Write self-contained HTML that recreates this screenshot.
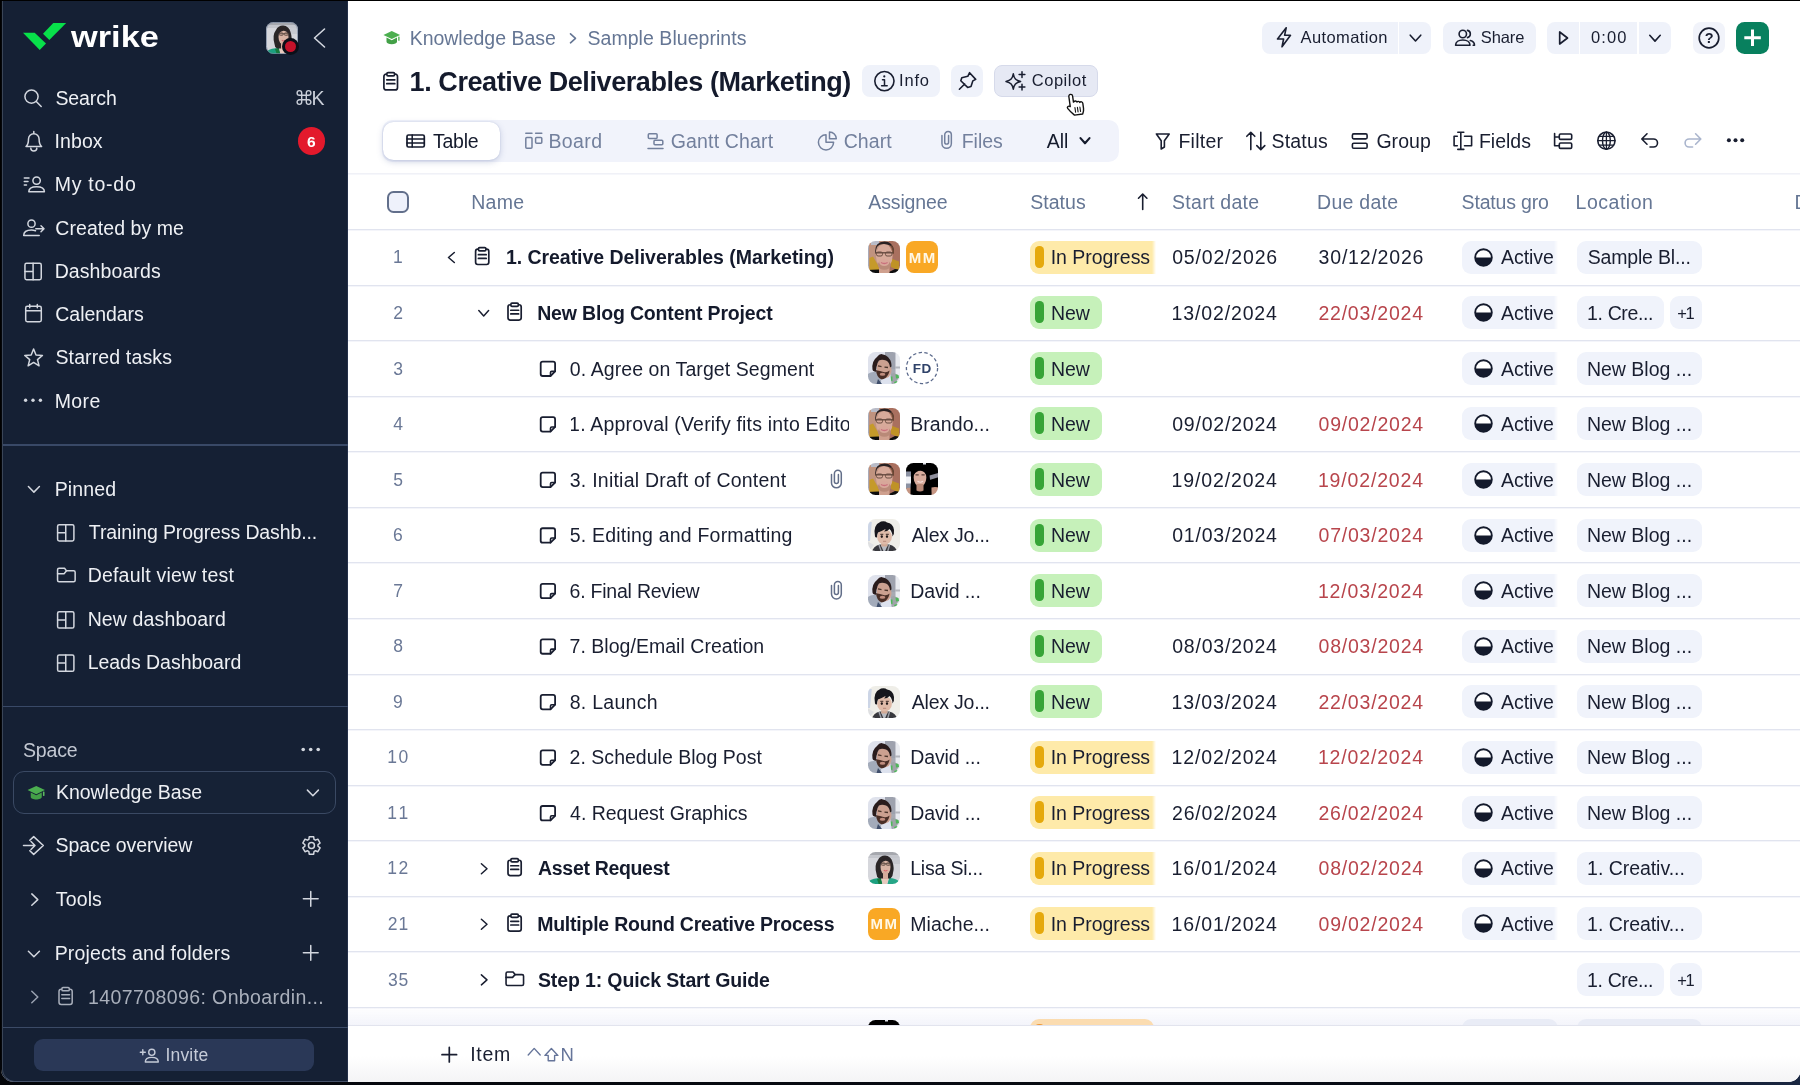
<!DOCTYPE html><html><head><meta charset="utf-8"><title>Wrike</title>
<style>
html,body{margin:0;padding:0;background:#000;}
body{width:1800px;height:1085px;overflow:hidden;position:relative;font-family:"Liberation Sans",sans-serif;}
.b{position:absolute;box-sizing:border-box;}
.t{position:absolute;white-space:nowrap;}
#win{position:absolute;left:1px;top:1px;width:1800px;height:1081px;overflow:hidden;border-radius:0 0 13px 13px;background:#fff;}
#in{position:absolute;left:-1px;top:-1px;width:1800px;height:1085px;will-change:transform;}
</style></head><body>
<div class="b" style="left:0;top:1060px;width:1800px;height:25px;background:linear-gradient(90deg,#04060a 0%,#080c15 85%,#1a2742 100%);"></div>
<svg width="0" height="0" style="position:absolute"><defs><filter id="bl" x="-10%" y="-10%" width="120%" height="120%"><feGaussianBlur stdDeviation="0.45"/></filter></defs></svg>
<div id="win"><div id="in">
<div class="b" style="left:0px;top:0px;width:348px;height:1085px;background:#152034;border-radius:0px;"></div>
<div class="b" style="left:0px;top:0px;width:2px;height:1085px;background:#04060a;border-radius:0px;"></div>
<div class="b" style="left:346.5px;top:0px;width:1.5px;height:1085px;background:#243049;border-radius:0px;"></div>
<div class="b" style="left:0px;top:0px;width:348px;height:1px;background:#05070b;border-radius:0px;"></div>
<div class="t" style="left:70.90px;top:18px;font-size:29.5px;line-height:37px;color:#ffffff;font-weight:700;transform:scaleX(1.165);transform-origin:0 50%;">wrike</div>
<svg class="b" style="left:266px;top:22px;border-radius:7.500px;overflow:hidden" width="32" height="32" viewBox="0 0 32 32"><g filter="url(#bl)"><rect x="-4" y="-4" width="40" height="40" fill="#d6d7dc"/><rect x="-4" y="-4" width="40" height="7" fill="#a6a8ae"/><rect x="-4" y="3" width="40" height="3" fill="#c4c6cc"/><rect x="24" y="6" width="12" height="6" fill="#c8cad0"/>
<path d="M1 29 Q5 26 13 26 L15 34 L1 34 Z" fill="#1fa07f"/><path d="M21 26 Q28 26 31 29.500 L31 34 L19 34 Z" fill="#25a687"/><path d="M9 27 l4 -1 l1 6 l-3 1 Z" fill="#147a3d"/>
<path d="M13 26 h8 l-3 8 h-3 Z" fill="#e8c9bd"/>
<path d="M8.500 22 Q6 13 10 8 Q12 3.500 17 3.500 Q23 4 24.500 10 Q26.500 16 25 21 Q25 24.500 22.500 26.500 L11 26.500 Q8.500 25 8.500 22 Z" fill="#2a2528"/>
<ellipse cx="17.500" cy="15" rx="5" ry="7.800" fill="#d9b4a4"/><rect x="15" y="20" width="5" height="7" fill="#d5ab9b"/>
<path d="M12.500 12 Q13.500 6 18 6.500 Q22.500 7 22.500 12 Q20 8.500 17.500 8.800 Q14.500 9 12.500 12 Z" fill="#2a2528"/>
<path d="M12.800 11.800 h9.500" stroke="#5a4a44" stroke-width="1"/><rect x="13.300" y="10.800" width="3.800" height="2.600" rx="1" fill="none" stroke="#5f4c44" stroke-width=".8"/><rect x="18.300" y="10.800" width="3.800" height="2.600" rx="1" fill="none" stroke="#5f4c44" stroke-width=".8"/>
<path d="M15.800 18.300 q1.800 1.400 3.600 0" stroke="#d8636b" stroke-width="1.100" fill="none"/></g></svg>
<div class="b" style="left:266px;top:22px;width:32px;height:32px;background:none;border-radius:7.5px;border:1px solid rgba(120,135,160,.7);"></div>
<div class="b" style="left:281.5px;top:38px;width:17px;height:17px;background:#0b0f18;border-radius:9px;"></div>
<div class="b" style="left:284.5px;top:41px;width:11px;height:11px;background:#c4122a;border-radius:6px;"></div>
<div class="t" style="left:55.45px;top:85px;font-size:19.5px;line-height:26px;color:#eef0f4;letter-spacing:-0.090px;">Search</div>
<div class="t" style="left:311.40px;top:85px;font-size:19.5px;line-height:26px;color:#c9ced8;">K</div>
<div class="t" style="left:54.45px;top:128px;font-size:19.5px;line-height:26px;color:#eef0f4;letter-spacing:0.113px;">Inbox</div>
<div class="b" style="left:297.5px;top:127.2px;width:27.5px;height:27.5px;background:#e3192c;border-radius:14px;"></div>
<div class="t" style="left:307.00px;top:131px;font-size:15.5px;line-height:21px;color:#fff;font-weight:700;">6</div>
<div class="t" style="left:54.65px;top:171px;font-size:19.5px;line-height:26px;color:#eef0f4;letter-spacing:0.750px;">My to-do</div>
<div class="t" style="left:55.35px;top:215px;font-size:19.5px;line-height:26px;color:#eef0f4;letter-spacing:0.054px;">Created by me</div>
<div class="t" style="left:54.65px;top:258px;font-size:19.5px;line-height:26px;color:#eef0f4;letter-spacing:0.094px;">Dashboards</div>
<div class="t" style="left:55.35px;top:301px;font-size:19.5px;line-height:26px;color:#eef0f4;letter-spacing:-0.069px;">Calendars</div>
<div class="t" style="left:55.45px;top:344px;font-size:19.5px;line-height:26px;color:#eef0f4;letter-spacing:0.133px;">Starred tasks</div>
<div class="t" style="left:54.65px;top:388px;font-size:19.5px;line-height:26px;color:#eef0f4;letter-spacing:0.417px;">More</div>
<div class="b" style="left:3px;top:444.2px;width:345px;height:1.6px;background:#394967;border-radius:0px;"></div>
<div class="t" style="left:54.65px;top:476px;font-size:19.5px;line-height:26px;color:#eef0f4;letter-spacing:0.170px;">Pinned</div>
<div class="t" style="left:88.85px;top:519px;font-size:19.5px;line-height:26px;color:#eef0f4;letter-spacing:-0.114px;">Training Progress Dashb...</div>
<div class="t" style="left:87.65px;top:562px;font-size:19.5px;line-height:26px;color:#eef0f4;letter-spacing:0.200px;">Default view test</div>
<div class="t" style="left:87.65px;top:606px;font-size:19.5px;line-height:26px;color:#eef0f4;letter-spacing:0.129px;">New dashboard</div>
<div class="t" style="left:87.65px;top:649px;font-size:19.5px;line-height:26px;color:#eef0f4;letter-spacing:-0.025px;">Leads Dashboard</div>
<div class="b" style="left:3px;top:705.8px;width:345px;height:1.6px;background:#394967;border-radius:0px;"></div>
<div class="t" style="left:22.95px;top:737px;font-size:19.5px;line-height:26px;color:#c3c8d2;letter-spacing:-0.150px;">Space</div>
<div class="b" style="left:12.5px;top:771.2px;width:323px;height:42.5px;background:#162236;border-radius:11px;border:1.500px solid #3a4963;"></div>
<svg class="b" style="left:26.500px;top:784.500px" width="18.500" height="16.500" viewBox="0 0 20 18"><polygon points="10,1 19.500,5.500 10,10 0.500,5.500" fill="#4caf50"/><path d="M4 8.300 v4.700 c0 1.500 2.800 2.800 6 2.800 s6 -1.300 6 -2.800 v-4.700 l-6 2.900 Z" fill="#43a047"/><rect x="17.300" y="7.200" width="1.700" height="4.800" rx=".5" fill="#5cb860"/></svg>
<div class="t" style="left:55.90px;top:779px;font-size:19.5px;line-height:26px;color:#eef0f4;letter-spacing:-0.012px;">Knowledge Base</div>
<div class="t" style="left:55.45px;top:832px;font-size:19.5px;line-height:26px;color:#eef0f4;letter-spacing:-0.058px;">Space overview</div>
<div class="t" style="left:55.85px;top:886px;font-size:19.5px;line-height:26px;color:#eef0f4;letter-spacing:0.125px;">Tools</div>
<div class="t" style="left:54.65px;top:940px;font-size:19.5px;line-height:26px;color:#eef0f4;letter-spacing:0.166px;">Projects and folders</div>
<div class="t" style="left:88.10px;top:984px;font-size:19.5px;line-height:26px;color:#a9afbb;letter-spacing:0.391px;">1407708096: Onboardin...</div>
<div class="b" style="left:3px;top:1026.8px;width:345px;height:1.6px;background:#3b4a66;border-radius:0px;"></div>
<div class="b" style="left:33.8px;top:1039.2px;width:280.7px;height:32px;background:#2a3857;border-radius:9px;"></div>
<div class="t" style="left:165.40px;top:1043px;font-size:17.5px;line-height:24px;color:#c5cbd8;letter-spacing:0.200px;">Invite</div>
<div class="b" style="left:2px;top:-20px;width:346px;height:1102px;background:none;border-radius:0 0 0 13px;border-left:1px solid #3a4557;border-bottom:1px solid #46526a;"></div>
<div class="b" style="left:348px;top:0px;width:1452px;height:1px;background:#15171c;border-radius:0px;"></div>
<svg class="b" style="left:383px;top:30.100px" width="17.500" height="16.300" viewBox="0 0 20 18" preserveAspectRatio="none"><polygon points="10,1 19.500,5.500 10,10 0.500,5.500" fill="#4caf50"/><path d="M4 8.300 v4.700 c0 1.500 2.800 2.800 6 2.800 s6 -1.300 6 -2.800 v-4.700 l-6 2.900 Z" fill="#43a047"/><rect x="17.300" y="7.200" width="1.700" height="4.800" rx=".5" fill="#5cb860"/></svg>
<div class="t" style="left:409.65px;top:25px;font-size:19.5px;line-height:26px;color:#657694;letter-spacing:-0.012px;">Knowledge Base</div>
<div class="t" style="left:587.50px;top:25px;font-size:19.5px;line-height:26px;color:#657694;letter-spacing:0.044px;">Sample Blueprints</div>
<div class="b" style="left:1262.2px;top:22px;width:135.6px;height:32px;background:#eff2fa;border-radius:8px 0 0 8px;"></div>
<div class="b" style="left:1399.3px;top:22px;width:32.2px;height:32px;background:#eff2fa;border-radius:0 8px 8px 0;"></div>
<div class="t" style="left:1300.50px;top:26px;font-size:16.5px;line-height:22px;color:#191e30;letter-spacing:0.389px;">Automation</div>
<div class="b" style="left:1443px;top:22px;width:92.8px;height:32px;background:#eff2fa;border-radius:8px;"></div>
<div class="t" style="left:1480.80px;top:26px;font-size:16.5px;line-height:22px;color:#191e30;letter-spacing:-0.100px;">Share</div>
<div class="b" style="left:1547.2px;top:22px;width:31.6px;height:32px;background:#eff2fa;border-radius:8px 0 0 8px;"></div>
<div class="b" style="left:1580.4px;top:22px;width:56.8px;height:32px;background:#eff2fa;border-radius:0px;"></div>
<div class="b" style="left:1638.9px;top:22px;width:32px;height:32px;background:#eff2fa;border-radius:0 8px 8px 0;"></div>
<div class="t" style="left:1591.10px;top:26px;font-size:16.5px;line-height:22px;color:#191e30;letter-spacing:1.033px;">0:00</div>
<div class="b" style="left:1693.1px;top:22px;width:32px;height:32px;background:#f1f3fa;border-radius:8px;"></div>
<div class="t" style="left:1704.85px;top:28px;font-size:14.5px;line-height:20px;color:#191e30;font-weight:700;">?</div>
<div class="b" style="left:1736.4px;top:21.8px;width:32.5px;height:32.2px;background:#08805e;border-radius:8.5px;"></div>
<div class="t" style="left:409.55px;top:65px;font-size:27px;line-height:34px;color:#141a2c;font-weight:700;letter-spacing:-0.413px;">1. Creative Deliverables (Marketing)</div>
<div class="b" style="left:862.2px;top:65.3px;width:77.5px;height:32px;background:#eff2fa;border-radius:8px;"></div>
<div class="t" style="left:899.10px;top:69px;font-size:16.5px;line-height:22px;color:#191e30;letter-spacing:0.800px;">Info</div>
<div class="b" style="left:951.1px;top:65.3px;width:31.7px;height:32px;background:#eff2fa;border-radius:8px;"></div>
<div class="b" style="left:994.2px;top:65.3px;width:103.6px;height:32px;background:#e6e9f4;border-radius:8px;border:1px solid #d6daea;"></div>
<div class="t" style="left:1031.70px;top:69px;font-size:16.5px;line-height:22px;color:#191e30;letter-spacing:0.550px;">Copilot</div>
<div class="b" style="left:382px;top:119.6px;width:737px;height:42.4px;background:#f1f3fb;border-radius:10.5px;"></div>
<div class="b" style="left:383.2px;top:121.8px;width:117.2px;height:38px;background:#ffffff;border-radius:10.5px;box-shadow:0 2px 6px rgba(70,90,150,.26), 0 0 1.500px rgba(70,90,150,.22);"></div>
<div class="t" style="left:432.90px;top:128px;font-size:19.5px;line-height:26px;color:#141a2c;letter-spacing:-0.200px;">Table</div>
<div class="t" style="left:548.40px;top:128px;font-size:19.5px;line-height:26px;color:#73809d;letter-spacing:0.400px;">Board</div>
<div class="t" style="left:670.80px;top:128px;font-size:19.5px;line-height:26px;color:#73809d;letter-spacing:0.150px;">Gantt Chart</div>
<div class="t" style="left:843.70px;top:128px;font-size:19.5px;line-height:26px;color:#73809d;letter-spacing:0.075px;">Chart</div>
<div class="t" style="left:961.70px;top:128px;font-size:19.5px;line-height:26px;color:#73809d;letter-spacing:-0.025px;">Files</div>
<div class="t" style="left:1046.80px;top:128px;font-size:19.5px;line-height:26px;color:#141a2c;letter-spacing:-0.100px;">All</div>
<div class="t" style="left:1178.40px;top:128px;font-size:19.5px;line-height:26px;color:#191e30;letter-spacing:0.260px;">Filter</div>
<div class="t" style="left:1271.60px;top:128px;font-size:19.5px;line-height:26px;color:#191e30;letter-spacing:0.160px;">Status</div>
<div class="t" style="left:1376.40px;top:128px;font-size:19.5px;line-height:26px;color:#191e30;letter-spacing:0.050px;">Group</div>
<div class="t" style="left:1478.90px;top:128px;font-size:19.5px;line-height:26px;color:#191e30;">Fields</div>
<div class="b" style="left:348px;top:173px;width:1452px;height:1px;background:#f0f1f7;border-radius:0px;"></div>
<div class="b" style="left:348px;top:174px;width:1452px;height:1px;background:#f6f7fb;border-radius:0px;"></div>
<div class="b" style="left:387px;top:191px;width:22px;height:22px;background:#eef1fb;border-radius:6.5px;border:2px solid #626f8b;"></div>
<div class="t" style="left:471.20px;top:189px;font-size:19.5px;line-height:26px;color:#657694;letter-spacing:0.267px;">Name</div>
<div class="t" style="left:868.30px;top:189px;font-size:19.5px;line-height:26px;color:#657694;letter-spacing:-0.129px;">Assignee</div>
<div class="t" style="left:1030.20px;top:189px;font-size:19.5px;line-height:26px;color:#657694;letter-spacing:0.040px;">Status</div>
<div class="t" style="left:1172.10px;top:189px;font-size:19.5px;line-height:26px;color:#657694;letter-spacing:0.267px;">Start date</div>
<div class="t" style="left:1317.10px;top:189px;font-size:19.5px;line-height:26px;color:#657694;letter-spacing:0.257px;">Due date</div>
<div class="b" style="left:1462.400px;top:185px;width:87.500px;height:34px;overflow:hidden">
<div class="t" style="left:-0.80px;top:4px;font-size:19.5px;line-height:26px;color:#657694;letter-spacing:-0.182px;">Status group</div>
</div>
<div class="t" style="left:1575.60px;top:189px;font-size:19.5px;line-height:26px;color:#657694;letter-spacing:0.514px;">Location</div>
<div class="t" style="left:1794.40px;top:189px;font-size:19.5px;line-height:26px;color:#657694;">D</div>
<div class="b" style="left:348px;top:229px;width:1452px;height:1px;background:#e1e4ef;border-radius:0px;"></div>
<div class="b" style="left:348px;top:230px;width:1452px;height:1px;background:#f4f5fa;border-radius:0px;"></div>
<div class="t" style="left:392.90px;top:245px;font-size:17.5px;line-height:24px;color:#6a7896;">1</div>
<div class="t" style="left:505.90px;top:244px;font-size:19.5px;line-height:26px;color:#141a2c;font-weight:700;letter-spacing:-0.040px;">1. Creative Deliverables (Marketing)</div>
<svg class="b" style="left:867.7px;top:241.2px;border-radius:7.500px;overflow:hidden" width="32" height="32" viewBox="0 0 32 32"><g filter="url(#bl)"><rect x="-4" y="-4" width="40" height="40" fill="#c0937f"/>
<rect x="21" y="-4" width="15" height="40" fill="#a9705f"/><rect x="3" y="-4" width="8" height="8" fill="#b9bcc8"/><rect x="-4" y="4" width="5" height="30" fill="#a9aab8"/>
<path d="M1.500 17 L5 15.500 L11 26 L11 29.500 L1.500 29.500 Z" fill="#c59a2a"/><path d="M23 17.500 L31 20.500 L31 29.500 L23 26 Z" fill="#bf9226"/>
<path d="M-2 29 L11 28.500 L11 34 L-2 34 Z M21 31 L27 28 L34 29 L34 34 L21 34 Z" fill="#0c0c0e"/>
<path d="M11 24 h10.500 v10 h-10.500 Z" fill="#cfa08e"/>
<ellipse cx="16.300" cy="15" rx="8.300" ry="12" fill="#d7aa9a"/>
<ellipse cx="16.300" cy="24" rx="6.500" ry="4.800" fill="#b98a78"/><ellipse cx="16.300" cy="21.500" rx="5" ry="3.500" fill="#d8a79a"/>
<path d="M7 11 Q7 .5 16.500 .5 Q25 .5 26 10 L26 13 Q25 6 22 4.500 Q19 3 16 3 Q11 3 9 6 Q8 8 7.500 13 Z" fill="#2a2024"/>
<path d="M23.500 4 Q26.500 7 26 13 L24.500 12 Q24.500 7 22.500 5 Z" fill="#6a4632"/>
<path d="M7 11.800 h18" stroke="#5d4439" stroke-width="1.300"/><rect x="8.500" y="11" width="6" height="4" rx="1.600" fill="none" stroke="#6a4e42" stroke-width="1"/><rect x="17.500" y="11" width="6.300" height="4" rx="1.600" fill="none" stroke="#6a4e42" stroke-width="1"/>
<path d="M13 21.500 q3.300 2 6.600 0" stroke="#c96f7c" stroke-width="1.300" fill="none"/></g></svg>
<div class="b" style="left:905.9000000000001px;top:241.2px;width:32px;height:32px;background:#f9a825;border-radius:8px;"></div>
<div class="t" style="left:908.65px;top:247px;font-size:15px;line-height:21px;color:#fff8e6;font-weight:700;letter-spacing:1.500px;">MM</div>
<div class="b" style="left:1030.300px;top:241px;width:126px;height:32.800px;overflow:hidden;-webkit-mask-image:linear-gradient(90deg,#000 122px,transparent 126px);mask-image:linear-gradient(90deg,#000 122px,transparent 126px)">
<div class="b" style="left:0px;top:0px;width:140px;height:32.8px;background:#feeaa9;border-radius:9px;"></div>
<div class="b" style="left:5px;top:5.4px;width:8.5px;height:22px;background:#e5a90c;border-radius:4.2px;"></div>
<div class="t" style="left:20.40px;top:3px;font-size:19.5px;line-height:26px;color:#191e30;letter-spacing:-0.030px;">In Progress</div>
</div>
<div class="t" style="left:1172.20px;top:244px;font-size:19.5px;line-height:26px;color:#191e30;letter-spacing:0.822px;">05/02/2026</div>
<div class="t" style="left:1318.60px;top:244px;font-size:19.5px;line-height:26px;color:#191e30;letter-spacing:0.800px;">30/12/2026</div>
<div class="b" style="left:1462.400px;top:241px;width:96px;height:32.800px;overflow:hidden;-webkit-mask-image:linear-gradient(90deg,#000 92px,transparent 96px);mask-image:linear-gradient(90deg,#000 92px,transparent 96px)">
<div class="b" style="left:0px;top:0px;width:120px;height:32.8px;background:#f0f3fb;border-radius:9px;"></div>
<svg class="b" style="left:11.500px;top:6.900px" width="19" height="19" viewBox="0 0 19 19"><circle cx="9.500" cy="9.500" r="8.300" fill="#fff" stroke="#141a2c" stroke-width="1.900"/><path d="M1.200 9.500 a8.300 8.300 0 0 0 16.600 0 Z" fill="#141a2c"/></svg>
<div class="t" style="left:38.70px;top:3px;font-size:19.5px;line-height:26px;color:#191e30;letter-spacing:-0.060px;">Active</div>
</div>
<div class="b" style="left:1577.2px;top:241px;width:124.8px;height:32.8px;background:#f0f3fb;border-radius:9px;"></div>
<div class="t" style="left:1587.70px;top:244px;font-size:19.5px;line-height:26px;color:#191e30;letter-spacing:-0.173px;">Sample Bl...</div>
<div class="b" style="left:348px;top:285px;width:1452px;height:1px;background:#e1e4ef;border-radius:0px;"></div>
<div class="b" style="left:348px;top:286px;width:1452px;height:1px;background:#f4f5fa;border-radius:0px;"></div>
<div class="t" style="left:393.15px;top:301px;font-size:17.5px;line-height:24px;color:#6a7896;">2</div>
<div class="t" style="left:537.20px;top:300px;font-size:19.5px;line-height:26px;color:#141a2c;font-weight:700;letter-spacing:-0.170px;">New Blog Content Project</div>
<div class="b" style="left:1030.3px;top:296px;width:71.8px;height:32.8px;background:#c6f1ba;border-radius:9px;"></div>
<div class="b" style="left:1035.3px;top:301.4px;width:8.5px;height:22px;background:#37a437;border-radius:4.2px;"></div>
<div class="t" style="left:1050.90px;top:300px;font-size:19.5px;line-height:26px;color:#191e30;">New</div>
<div class="t" style="left:1171.50px;top:300px;font-size:19.5px;line-height:26px;color:#191e30;letter-spacing:0.867px;">13/02/2024</div>
<div class="t" style="left:1318.40px;top:300px;font-size:19.5px;line-height:26px;color:#b8454c;letter-spacing:0.789px;">22/03/2024</div>
<div class="b" style="left:1462.400px;top:296px;width:96px;height:32.800px;overflow:hidden;-webkit-mask-image:linear-gradient(90deg,#000 92px,transparent 96px);mask-image:linear-gradient(90deg,#000 92px,transparent 96px)">
<div class="b" style="left:0px;top:0px;width:120px;height:32.8px;background:#f0f3fb;border-radius:9px;"></div>
<svg class="b" style="left:11.500px;top:6.900px" width="19" height="19" viewBox="0 0 19 19"><circle cx="9.500" cy="9.500" r="8.300" fill="#fff" stroke="#141a2c" stroke-width="1.900"/><path d="M1.200 9.500 a8.300 8.300 0 0 0 16.600 0 Z" fill="#141a2c"/></svg>
<div class="t" style="left:38.70px;top:4px;font-size:19.5px;line-height:26px;color:#191e30;letter-spacing:-0.060px;">Active</div>
</div>
<div class="b" style="left:1577.2px;top:296px;width:86.6px;height:32.8px;background:#f0f3fb;border-radius:9px;"></div>
<div class="t" style="left:1587.10px;top:300px;font-size:19.5px;line-height:26px;color:#191e30;letter-spacing:-0.375px;">1. Cre...</div>
<div class="b" style="left:1670.2px;top:296px;width:31.8px;height:32.8px;background:#f0f3fb;border-radius:9px;"></div>
<div class="t" style="left:1677.20px;top:302px;font-size:16.5px;line-height:22px;color:#191e30;letter-spacing:-1.200px;">+1</div>
<div class="b" style="left:348px;top:340px;width:1452px;height:1px;background:#e1e4ef;border-radius:0px;"></div>
<div class="b" style="left:348px;top:341px;width:1452px;height:1px;background:#f4f5fa;border-radius:0px;"></div>
<div class="t" style="left:393.20px;top:357px;font-size:17.5px;line-height:24px;color:#6a7896;">3</div>
<div class="t" style="left:569.80px;top:356px;font-size:19.5px;line-height:26px;color:#191e30;letter-spacing:0.080px;">0. Agree on Target Segment</div>
<svg class="b" style="left:867.7px;top:352.3px;border-radius:7.500px;overflow:hidden" width="32" height="32" viewBox="0 0 32 32"><g filter="url(#bl)"><rect x="-4" y="-4" width="40" height="40" fill="#dfe2ec"/>
<rect x="27.500" y="-4" width="9" height="40" fill="#e9ebf0"/>
<rect x="22.500" y="-2" width="5" height="36" fill="#a7aab3"/><rect x="23.500" y="0" width="2" height="8" fill="#3a3c48"/><rect x="27" y="14.500" width="6" height="2" fill="#b4b6bd"/>
<path d="M17 0 L27 0 L27 17 L22 17 Q22 9 17 6 Z" fill="#9ea2ae"/>
<path d="M22.500 22 l3 -1 l4 1.500 l1.500 3 l-3 4.500 l-5 .5 Z" fill="#9fa4a8"/><path d="M27.500 22.500 l3 .5 l.5 3 l-3 .5 Z M22.500 24.500 l2 0 l0 4.500 l-2 0 Z M26 30 l3 -1 l.5 1.500 l-3 1 Z" fill="#4fb75a"/>
<path d="M-2 23 Q4 19 9 20 L16 34 L-2 34 Z" fill="#a3abba"/><path d="M14 26 L22 22 L24 34 L12 34 Z" fill="#dde2ee"/><path d="M10 27 L14 32 L12 34 L8 34 Z" fill="#3f4f6c"/>
<ellipse cx="16" cy="16.500" rx="7.300" ry="9.800" fill="#cba090" transform="rotate(-14 16 16.500)"/>
<path d="M4.500 17.500 Q3.500 9 9 5 Q12 1 15 2.500 Q19 3 21.500 7 Q23.500 9 23.500 14.500 L22 15.500 Q21.500 10 18 8.500 Q14 7 11 8.500 Q9 11 8.500 15 Q8 18 8.500 20 L6.500 19.500 Q4.500 19 4.500 17.500 Z" fill="#2a1e1f"/>
<path d="M8 18 Q8.500 25.500 13.500 27.500 Q18 27 20.500 22 Q21.500 19.500 21.500 18.500 Q19 21 15.500 20 Q11.500 18.500 9.500 18.500 Z" fill="#4a2f28"/>
<ellipse cx="14.500" cy="22.300" rx="2.800" ry="1.500" fill="#c08d7e"/>
<path d="M10 13.800 l3.500 .8 M16.500 15.200 l3.500 .3" stroke="#4a342c" stroke-width="1.300"/></g></svg>
<svg class="b" style="left:904.9000000000001px;top:351.3px" width="34" height="34" viewBox="0 0 34 34"><circle cx="17" cy="17" r="15.600" fill="#fff" stroke="#5b6a8c" stroke-width="1.300" stroke-dasharray="3.400 2.400"/></svg>
<div class="t" style="left:912.80px;top:359px;font-size:13.5px;line-height:19px;color:#2f4269;font-weight:700;letter-spacing:0.500px;">FD</div>
<div class="b" style="left:1030.3px;top:352px;width:71.8px;height:32.8px;background:#c6f1ba;border-radius:9px;"></div>
<div class="b" style="left:1035.3px;top:357.4px;width:8.5px;height:22px;background:#37a437;border-radius:4.2px;"></div>
<div class="t" style="left:1050.90px;top:356px;font-size:19.5px;line-height:26px;color:#191e30;">New</div>
<div class="b" style="left:1462.400px;top:352px;width:96px;height:32.800px;overflow:hidden;-webkit-mask-image:linear-gradient(90deg,#000 92px,transparent 96px);mask-image:linear-gradient(90deg,#000 92px,transparent 96px)">
<div class="b" style="left:0px;top:0px;width:120px;height:32.8px;background:#f0f3fb;border-radius:9px;"></div>
<svg class="b" style="left:11.500px;top:6.900px" width="19" height="19" viewBox="0 0 19 19"><circle cx="9.500" cy="9.500" r="8.300" fill="#fff" stroke="#141a2c" stroke-width="1.900"/><path d="M1.200 9.500 a8.300 8.300 0 0 0 16.600 0 Z" fill="#141a2c"/></svg>
<div class="t" style="left:38.70px;top:4px;font-size:19.5px;line-height:26px;color:#191e30;letter-spacing:-0.060px;">Active</div>
</div>
<div class="b" style="left:1577.2px;top:352px;width:124.8px;height:32.8px;background:#f0f3fb;border-radius:9px;"></div>
<div class="t" style="left:1586.90px;top:356px;font-size:19.5px;line-height:26px;color:#191e30;letter-spacing:0.009px;">New Blog ...</div>
<div class="b" style="left:348px;top:396px;width:1452px;height:1px;background:#e1e4ef;border-radius:0px;"></div>
<div class="b" style="left:348px;top:397px;width:1452px;height:1px;background:#f4f5fa;border-radius:0px;"></div>
<div class="t" style="left:393.15px;top:412px;font-size:17.5px;line-height:24px;color:#6a7896;">4</div>
<div class="b" style="left:570.5px;top:408px;width:278.5px;height:32px;overflow:hidden">
<div class="t" style="left:-1.40px;top:3px;font-size:19.5px;line-height:26px;color:#191e30;letter-spacing:0.185px;">1. Approval (Verify fits into Editorial</div>
</div>
<svg class="b" style="left:867.7px;top:407.84999999999997px;border-radius:7.500px;overflow:hidden" width="32" height="32" viewBox="0 0 32 32"><g filter="url(#bl)"><rect x="-4" y="-4" width="40" height="40" fill="#c0937f"/>
<rect x="21" y="-4" width="15" height="40" fill="#a9705f"/><rect x="3" y="-4" width="8" height="8" fill="#b9bcc8"/><rect x="-4" y="4" width="5" height="30" fill="#a9aab8"/>
<path d="M1.500 17 L5 15.500 L11 26 L11 29.500 L1.500 29.500 Z" fill="#c59a2a"/><path d="M23 17.500 L31 20.500 L31 29.500 L23 26 Z" fill="#bf9226"/>
<path d="M-2 29 L11 28.500 L11 34 L-2 34 Z M21 31 L27 28 L34 29 L34 34 L21 34 Z" fill="#0c0c0e"/>
<path d="M11 24 h10.500 v10 h-10.500 Z" fill="#cfa08e"/>
<ellipse cx="16.300" cy="15" rx="8.300" ry="12" fill="#d7aa9a"/>
<ellipse cx="16.300" cy="24" rx="6.500" ry="4.800" fill="#b98a78"/><ellipse cx="16.300" cy="21.500" rx="5" ry="3.500" fill="#d8a79a"/>
<path d="M7 11 Q7 .5 16.500 .5 Q25 .5 26 10 L26 13 Q25 6 22 4.500 Q19 3 16 3 Q11 3 9 6 Q8 8 7.500 13 Z" fill="#2a2024"/>
<path d="M23.500 4 Q26.500 7 26 13 L24.500 12 Q24.500 7 22.500 5 Z" fill="#6a4632"/>
<path d="M7 11.800 h18" stroke="#5d4439" stroke-width="1.300"/><rect x="8.500" y="11" width="6" height="4" rx="1.600" fill="none" stroke="#6a4e42" stroke-width="1"/><rect x="17.500" y="11" width="6.300" height="4" rx="1.600" fill="none" stroke="#6a4e42" stroke-width="1"/>
<path d="M13 21.500 q3.300 2 6.600 0" stroke="#c96f7c" stroke-width="1.300" fill="none"/></g></svg>
<div class="t" style="left:910.20px;top:411px;font-size:19.5px;line-height:26px;color:#191e30;letter-spacing:0.088px;">Brando...</div>
<div class="b" style="left:1030.3px;top:407px;width:71.8px;height:32.8px;background:#c6f1ba;border-radius:9px;"></div>
<div class="b" style="left:1035.3px;top:412.4px;width:8.5px;height:22px;background:#37a437;border-radius:4.2px;"></div>
<div class="t" style="left:1050.90px;top:411px;font-size:19.5px;line-height:26px;color:#191e30;">New</div>
<div class="t" style="left:1172.20px;top:411px;font-size:19.5px;line-height:26px;color:#191e30;letter-spacing:0.789px;">09/02/2024</div>
<div class="t" style="left:1318.60px;top:411px;font-size:19.5px;line-height:26px;color:#b8454c;letter-spacing:0.767px;">09/02/2024</div>
<div class="b" style="left:1462.400px;top:407px;width:96px;height:32.800px;overflow:hidden;-webkit-mask-image:linear-gradient(90deg,#000 92px,transparent 96px);mask-image:linear-gradient(90deg,#000 92px,transparent 96px)">
<div class="b" style="left:0px;top:0px;width:120px;height:32.8px;background:#f0f3fb;border-radius:9px;"></div>
<svg class="b" style="left:11.500px;top:6.900px" width="19" height="19" viewBox="0 0 19 19"><circle cx="9.500" cy="9.500" r="8.300" fill="#fff" stroke="#141a2c" stroke-width="1.900"/><path d="M1.200 9.500 a8.300 8.300 0 0 0 16.600 0 Z" fill="#141a2c"/></svg>
<div class="t" style="left:38.70px;top:4px;font-size:19.5px;line-height:26px;color:#191e30;letter-spacing:-0.060px;">Active</div>
</div>
<div class="b" style="left:1577.2px;top:407px;width:124.8px;height:32.8px;background:#f0f3fb;border-radius:9px;"></div>
<div class="t" style="left:1586.90px;top:411px;font-size:19.5px;line-height:26px;color:#191e30;letter-spacing:0.009px;">New Blog ...</div>
<div class="b" style="left:348px;top:451px;width:1452px;height:1px;background:#e1e4ef;border-radius:0px;"></div>
<div class="b" style="left:348px;top:452px;width:1452px;height:1px;background:#f4f5fa;border-radius:0px;"></div>
<div class="t" style="left:393.15px;top:468px;font-size:17.5px;line-height:24px;color:#6a7896;">5</div>
<div class="t" style="left:569.80px;top:467px;font-size:19.5px;line-height:26px;color:#191e30;letter-spacing:0.231px;">3. Initial Draft of Content</div>
<svg class="b" style="left:867.7px;top:463.4px;border-radius:7.500px;overflow:hidden" width="32" height="32" viewBox="0 0 32 32"><g filter="url(#bl)"><rect x="-4" y="-4" width="40" height="40" fill="#c0937f"/>
<rect x="21" y="-4" width="15" height="40" fill="#a9705f"/><rect x="3" y="-4" width="8" height="8" fill="#b9bcc8"/><rect x="-4" y="4" width="5" height="30" fill="#a9aab8"/>
<path d="M1.500 17 L5 15.500 L11 26 L11 29.500 L1.500 29.500 Z" fill="#c59a2a"/><path d="M23 17.500 L31 20.500 L31 29.500 L23 26 Z" fill="#bf9226"/>
<path d="M-2 29 L11 28.500 L11 34 L-2 34 Z M21 31 L27 28 L34 29 L34 34 L21 34 Z" fill="#0c0c0e"/>
<path d="M11 24 h10.500 v10 h-10.500 Z" fill="#cfa08e"/>
<ellipse cx="16.300" cy="15" rx="8.300" ry="12" fill="#d7aa9a"/>
<ellipse cx="16.300" cy="24" rx="6.500" ry="4.800" fill="#b98a78"/><ellipse cx="16.300" cy="21.500" rx="5" ry="3.500" fill="#d8a79a"/>
<path d="M7 11 Q7 .5 16.500 .5 Q25 .5 26 10 L26 13 Q25 6 22 4.500 Q19 3 16 3 Q11 3 9 6 Q8 8 7.500 13 Z" fill="#2a2024"/>
<path d="M23.500 4 Q26.500 7 26 13 L24.500 12 Q24.500 7 22.500 5 Z" fill="#6a4632"/>
<path d="M7 11.800 h18" stroke="#5d4439" stroke-width="1.300"/><rect x="8.500" y="11" width="6" height="4" rx="1.600" fill="none" stroke="#6a4e42" stroke-width="1"/><rect x="17.500" y="11" width="6.300" height="4" rx="1.600" fill="none" stroke="#6a4e42" stroke-width="1"/>
<path d="M13 21.500 q3.300 2 6.600 0" stroke="#c96f7c" stroke-width="1.300" fill="none"/></g></svg>
<svg class="b" style="left:905.9000000000001px;top:463.4px;border-radius:7.500px;overflow:hidden" width="32" height="32" viewBox="0 0 32 32"><g filter="url(#bl)"><rect x="-4" y="-4" width="40" height="40" fill="#050506"/>
<rect x="-4" y="8.500" width="9" height="16.500" fill="#8b91a2"/><rect x="-4" y="13.500" width="9" height="7" fill="#f2f3f7"/>
<path d="M23.500 12.500 L36 9 L36 13 L23.500 17 Z" fill="#8f8f9c"/><rect x="17" y="-4" width="3" height="5.500" fill="#dfe2ea"/>
<path d="M-1 26 Q2 24 5 25 L5 34 L-1 34 Z" fill="#c49582"/><path d="M25.500 24.500 Q30 23.500 34 25 L34 34 L25.500 34 Z" fill="#c79784"/>
<path d="M4.500 34 Q4 10 10 5 Q14 2 18 4 Q24 8 24.500 22 L25.500 34 Z" fill="#050506"/>
<ellipse cx="14" cy="14.800" rx="6.300" ry="8.600" fill="#d9ad9d"/>
<path d="M10.500 21 h7 v6.500 q-3.500 2 -7 0 Z" fill="#b88977"/>
<path d="M7.500 12 Q8 4.500 14 4.500 Q20.500 4.500 20.800 13 Q19 8 14.500 7.800 Q10 8 7.500 12 Z" fill="#050506"/>
<path d="M9.500 11.800 h3.200 M15.500 11.800 h3.200" stroke="#5a3f38" stroke-width="1.200"/>
<path d="M11.500 18.300 q2.800 1.800 5.600 0" stroke="#f4dcd8" stroke-width="1.100" fill="none"/></g></svg>
<div class="b" style="left:1030.3px;top:463px;width:71.8px;height:32.8px;background:#c6f1ba;border-radius:9px;"></div>
<div class="b" style="left:1035.3px;top:468.4px;width:8.5px;height:22px;background:#37a437;border-radius:4.2px;"></div>
<div class="t" style="left:1050.90px;top:467px;font-size:19.5px;line-height:26px;color:#191e30;">New</div>
<div class="t" style="left:1171.50px;top:467px;font-size:19.5px;line-height:26px;color:#191e30;letter-spacing:0.867px;">19/02/2024</div>
<div class="t" style="left:1317.90px;top:467px;font-size:19.5px;line-height:26px;color:#b8454c;letter-spacing:0.844px;">19/02/2024</div>
<div class="b" style="left:1462.400px;top:463px;width:96px;height:32.800px;overflow:hidden;-webkit-mask-image:linear-gradient(90deg,#000 92px,transparent 96px);mask-image:linear-gradient(90deg,#000 92px,transparent 96px)">
<div class="b" style="left:0px;top:0px;width:120px;height:32.8px;background:#f0f3fb;border-radius:9px;"></div>
<svg class="b" style="left:11.500px;top:6.900px" width="19" height="19" viewBox="0 0 19 19"><circle cx="9.500" cy="9.500" r="8.300" fill="#fff" stroke="#141a2c" stroke-width="1.900"/><path d="M1.200 9.500 a8.300 8.300 0 0 0 16.600 0 Z" fill="#141a2c"/></svg>
<div class="t" style="left:38.70px;top:4px;font-size:19.5px;line-height:26px;color:#191e30;letter-spacing:-0.060px;">Active</div>
</div>
<div class="b" style="left:1577.2px;top:463px;width:124.8px;height:32.8px;background:#f0f3fb;border-radius:9px;"></div>
<div class="t" style="left:1586.90px;top:467px;font-size:19.5px;line-height:26px;color:#191e30;letter-spacing:0.009px;">New Blog ...</div>
<div class="b" style="left:348px;top:507px;width:1452px;height:1px;background:#e1e4ef;border-radius:0px;"></div>
<div class="b" style="left:348px;top:508px;width:1452px;height:1px;background:#f4f5fa;border-radius:0px;"></div>
<div class="t" style="left:393.10px;top:523px;font-size:17.5px;line-height:24px;color:#6a7896;">6</div>
<div class="t" style="left:569.80px;top:522px;font-size:19.5px;line-height:26px;color:#191e30;letter-spacing:0.200px;">5. Editing and Formatting</div>
<svg class="b" style="left:867.7px;top:518.9499999999999px;border-radius:7.500px;overflow:hidden" width="32" height="32" viewBox="0 0 32 32"><g filter="url(#bl)"><rect x="-4" y="-4" width="40" height="40" fill="#efeee8"/><path d="M0 3 h3.800 l-1.800 19 h-2.500 Z" fill="#ccd5e6"/><path d="M0 22.500 l6 3.500 l-4 4.500 l-3 -2 Z" fill="#dfe0e2"/>
<path d="M3.800 34 Q5 26.500 12 25.500 L21 25.500 Q28 26.500 29.500 34 Z" fill="#38383d"/><path d="M12.500 25.500 l3.800 8.500 l3.800 -8.500 Z" fill="#b9bcc3"/><path d="M11 26 l2.500 7 M21.500 26 l-2 7" stroke="#9c9fa8" stroke-width="1.400"/>
<rect x="13.300" y="22" width="6" height="5.500" fill="#d1a995"/>
<ellipse cx="16.500" cy="17.800" rx="7.400" ry="7.600" fill="#dfbba9"/>
<path d="M7 17.500 Q4.500 6 13 2.500 Q17 1.500 19 3.500 Q25 4 26 11 Q26.500 15 24.500 17.500 Q24.500 13 21.500 10 Q19.500 12.500 16 12.500 Q17.500 11 17.500 10 Q13 12.500 10 13.500 Q9 15.500 9 18.500 Q7 18.500 7 17.500 Z" fill="#17161a"/>
<ellipse cx="13.800" cy="17.600" rx="1.100" ry="1.300" fill="#1c1414"/><ellipse cx="19" cy="17.600" rx="1.100" ry="1.300" fill="#1c1414"/>
<path d="M12.300 15.300 h3 M17.800 15.300 h3" stroke="#3a2a26" stroke-width="1"/><path d="M15 22.300 h3.200" stroke="#b98b7b" stroke-width="1"/></g></svg>
<div class="t" style="left:911.80px;top:522px;font-size:19.5px;line-height:26px;color:#191e30;letter-spacing:-0.222px;">Alex Jo...</div>
<div class="b" style="left:1030.3px;top:519px;width:71.8px;height:32.8px;background:#c6f1ba;border-radius:9px;"></div>
<div class="b" style="left:1035.3px;top:524.4px;width:8.5px;height:22px;background:#37a437;border-radius:4.2px;"></div>
<div class="t" style="left:1050.90px;top:522px;font-size:19.5px;line-height:26px;color:#191e30;">New</div>
<div class="t" style="left:1172.20px;top:522px;font-size:19.5px;line-height:26px;color:#191e30;letter-spacing:0.789px;">01/03/2024</div>
<div class="t" style="left:1318.60px;top:522px;font-size:19.5px;line-height:26px;color:#b8454c;letter-spacing:0.767px;">07/03/2024</div>
<div class="b" style="left:1462.400px;top:519px;width:96px;height:32.800px;overflow:hidden;-webkit-mask-image:linear-gradient(90deg,#000 92px,transparent 96px);mask-image:linear-gradient(90deg,#000 92px,transparent 96px)">
<div class="b" style="left:0px;top:0px;width:120px;height:32.8px;background:#f0f3fb;border-radius:9px;"></div>
<svg class="b" style="left:11.500px;top:6.900px" width="19" height="19" viewBox="0 0 19 19"><circle cx="9.500" cy="9.500" r="8.300" fill="#fff" stroke="#141a2c" stroke-width="1.900"/><path d="M1.200 9.500 a8.300 8.300 0 0 0 16.600 0 Z" fill="#141a2c"/></svg>
<div class="t" style="left:38.70px;top:3px;font-size:19.5px;line-height:26px;color:#191e30;letter-spacing:-0.060px;">Active</div>
</div>
<div class="b" style="left:1577.2px;top:519px;width:124.8px;height:32.8px;background:#f0f3fb;border-radius:9px;"></div>
<div class="t" style="left:1586.90px;top:522px;font-size:19.5px;line-height:26px;color:#191e30;letter-spacing:0.009px;">New Blog ...</div>
<div class="b" style="left:348px;top:562px;width:1452px;height:1px;background:#e1e4ef;border-radius:0px;"></div>
<div class="b" style="left:348px;top:563px;width:1452px;height:1px;background:#f4f5fa;border-radius:0px;"></div>
<div class="t" style="left:393.15px;top:579px;font-size:17.5px;line-height:24px;color:#6a7896;">7</div>
<div class="t" style="left:569.60px;top:578px;font-size:19.5px;line-height:26px;color:#191e30;letter-spacing:-0.229px;">6. Final Review</div>
<svg class="b" style="left:867.7px;top:574.4999999999999px;border-radius:7.500px;overflow:hidden" width="32" height="32" viewBox="0 0 32 32"><g filter="url(#bl)"><rect x="-4" y="-4" width="40" height="40" fill="#dfe2ec"/>
<rect x="27.500" y="-4" width="9" height="40" fill="#e9ebf0"/>
<rect x="22.500" y="-2" width="5" height="36" fill="#a7aab3"/><rect x="23.500" y="0" width="2" height="8" fill="#3a3c48"/><rect x="27" y="14.500" width="6" height="2" fill="#b4b6bd"/>
<path d="M17 0 L27 0 L27 17 L22 17 Q22 9 17 6 Z" fill="#9ea2ae"/>
<path d="M22.500 22 l3 -1 l4 1.500 l1.500 3 l-3 4.500 l-5 .5 Z" fill="#9fa4a8"/><path d="M27.500 22.500 l3 .5 l.5 3 l-3 .5 Z M22.500 24.500 l2 0 l0 4.500 l-2 0 Z M26 30 l3 -1 l.5 1.500 l-3 1 Z" fill="#4fb75a"/>
<path d="M-2 23 Q4 19 9 20 L16 34 L-2 34 Z" fill="#a3abba"/><path d="M14 26 L22 22 L24 34 L12 34 Z" fill="#dde2ee"/><path d="M10 27 L14 32 L12 34 L8 34 Z" fill="#3f4f6c"/>
<ellipse cx="16" cy="16.500" rx="7.300" ry="9.800" fill="#cba090" transform="rotate(-14 16 16.500)"/>
<path d="M4.500 17.500 Q3.500 9 9 5 Q12 1 15 2.500 Q19 3 21.500 7 Q23.500 9 23.500 14.500 L22 15.500 Q21.500 10 18 8.500 Q14 7 11 8.500 Q9 11 8.500 15 Q8 18 8.500 20 L6.500 19.500 Q4.500 19 4.500 17.500 Z" fill="#2a1e1f"/>
<path d="M8 18 Q8.500 25.500 13.500 27.500 Q18 27 20.500 22 Q21.500 19.500 21.500 18.500 Q19 21 15.500 20 Q11.500 18.500 9.500 18.500 Z" fill="#4a2f28"/>
<ellipse cx="14.500" cy="22.300" rx="2.800" ry="1.500" fill="#c08d7e"/>
<path d="M10 13.800 l3.500 .8 M16.500 15.200 l3.500 .3" stroke="#4a342c" stroke-width="1.300"/></g></svg>
<div class="t" style="left:910.20px;top:578px;font-size:19.5px;line-height:26px;color:#191e30;letter-spacing:-0.113px;">David ...</div>
<div class="b" style="left:1030.3px;top:574px;width:71.8px;height:32.8px;background:#c6f1ba;border-radius:9px;"></div>
<div class="b" style="left:1035.3px;top:579.4px;width:8.5px;height:22px;background:#37a437;border-radius:4.2px;"></div>
<div class="t" style="left:1050.90px;top:578px;font-size:19.5px;line-height:26px;color:#191e30;">New</div>
<div class="t" style="left:1317.90px;top:578px;font-size:19.5px;line-height:26px;color:#b8454c;letter-spacing:0.844px;">12/03/2024</div>
<div class="b" style="left:1462.400px;top:574px;width:96px;height:32.800px;overflow:hidden;-webkit-mask-image:linear-gradient(90deg,#000 92px,transparent 96px);mask-image:linear-gradient(90deg,#000 92px,transparent 96px)">
<div class="b" style="left:0px;top:0px;width:120px;height:32.8px;background:#f0f3fb;border-radius:9px;"></div>
<svg class="b" style="left:11.500px;top:6.900px" width="19" height="19" viewBox="0 0 19 19"><circle cx="9.500" cy="9.500" r="8.300" fill="#fff" stroke="#141a2c" stroke-width="1.900"/><path d="M1.200 9.500 a8.300 8.300 0 0 0 16.600 0 Z" fill="#141a2c"/></svg>
<div class="t" style="left:38.70px;top:4px;font-size:19.5px;line-height:26px;color:#191e30;letter-spacing:-0.060px;">Active</div>
</div>
<div class="b" style="left:1577.2px;top:574px;width:124.8px;height:32.8px;background:#f0f3fb;border-radius:9px;"></div>
<div class="t" style="left:1586.90px;top:578px;font-size:19.5px;line-height:26px;color:#191e30;letter-spacing:0.009px;">New Blog ...</div>
<div class="b" style="left:348px;top:618px;width:1452px;height:1px;background:#e1e4ef;border-radius:0px;"></div>
<div class="b" style="left:348px;top:619px;width:1452px;height:1px;background:#f4f5fa;border-radius:0px;"></div>
<div class="t" style="left:393.15px;top:634px;font-size:17.5px;line-height:24px;color:#6a7896;">8</div>
<div class="t" style="left:569.50px;top:633px;font-size:19.5px;line-height:26px;color:#191e30;letter-spacing:0.033px;">7. Blog/Email Creation</div>
<div class="b" style="left:1030.3px;top:630px;width:71.8px;height:32.8px;background:#c6f1ba;border-radius:9px;"></div>
<div class="b" style="left:1035.3px;top:635.4px;width:8.5px;height:22px;background:#37a437;border-radius:4.2px;"></div>
<div class="t" style="left:1050.90px;top:633px;font-size:19.5px;line-height:26px;color:#191e30;">New</div>
<div class="t" style="left:1172.20px;top:633px;font-size:19.5px;line-height:26px;color:#191e30;letter-spacing:0.789px;">08/03/2024</div>
<div class="t" style="left:1318.60px;top:633px;font-size:19.5px;line-height:26px;color:#b8454c;letter-spacing:0.767px;">08/03/2024</div>
<div class="b" style="left:1462.400px;top:630px;width:96px;height:32.800px;overflow:hidden;-webkit-mask-image:linear-gradient(90deg,#000 92px,transparent 96px);mask-image:linear-gradient(90deg,#000 92px,transparent 96px)">
<div class="b" style="left:0px;top:0px;width:120px;height:32.8px;background:#f0f3fb;border-radius:9px;"></div>
<svg class="b" style="left:11.500px;top:6.900px" width="19" height="19" viewBox="0 0 19 19"><circle cx="9.500" cy="9.500" r="8.300" fill="#fff" stroke="#141a2c" stroke-width="1.900"/><path d="M1.200 9.500 a8.300 8.300 0 0 0 16.600 0 Z" fill="#141a2c"/></svg>
<div class="t" style="left:38.70px;top:3px;font-size:19.5px;line-height:26px;color:#191e30;letter-spacing:-0.060px;">Active</div>
</div>
<div class="b" style="left:1577.2px;top:630px;width:124.8px;height:32.8px;background:#f0f3fb;border-radius:9px;"></div>
<div class="t" style="left:1586.90px;top:633px;font-size:19.5px;line-height:26px;color:#191e30;letter-spacing:0.009px;">New Blog ...</div>
<div class="b" style="left:348px;top:674px;width:1452px;height:1px;background:#e1e4ef;border-radius:0px;"></div>
<div class="b" style="left:348px;top:675px;width:1452px;height:1px;background:#f4f5fa;border-radius:0px;"></div>
<div class="t" style="left:393.10px;top:690px;font-size:17.5px;line-height:24px;color:#6a7896;">9</div>
<div class="t" style="left:569.70px;top:689px;font-size:19.5px;line-height:26px;color:#191e30;letter-spacing:0.275px;">8. Launch</div>
<svg class="b" style="left:867.7px;top:685.5999999999999px;border-radius:7.500px;overflow:hidden" width="32" height="32" viewBox="0 0 32 32"><g filter="url(#bl)"><rect x="-4" y="-4" width="40" height="40" fill="#efeee8"/><path d="M0 3 h3.800 l-1.800 19 h-2.500 Z" fill="#ccd5e6"/><path d="M0 22.500 l6 3.500 l-4 4.500 l-3 -2 Z" fill="#dfe0e2"/>
<path d="M3.800 34 Q5 26.500 12 25.500 L21 25.500 Q28 26.500 29.500 34 Z" fill="#38383d"/><path d="M12.500 25.500 l3.800 8.500 l3.800 -8.500 Z" fill="#b9bcc3"/><path d="M11 26 l2.500 7 M21.500 26 l-2 7" stroke="#9c9fa8" stroke-width="1.400"/>
<rect x="13.300" y="22" width="6" height="5.500" fill="#d1a995"/>
<ellipse cx="16.500" cy="17.800" rx="7.400" ry="7.600" fill="#dfbba9"/>
<path d="M7 17.500 Q4.500 6 13 2.500 Q17 1.500 19 3.500 Q25 4 26 11 Q26.500 15 24.500 17.500 Q24.500 13 21.500 10 Q19.500 12.500 16 12.500 Q17.500 11 17.500 10 Q13 12.500 10 13.500 Q9 15.500 9 18.500 Q7 18.500 7 17.500 Z" fill="#17161a"/>
<ellipse cx="13.800" cy="17.600" rx="1.100" ry="1.300" fill="#1c1414"/><ellipse cx="19" cy="17.600" rx="1.100" ry="1.300" fill="#1c1414"/>
<path d="M12.300 15.300 h3 M17.800 15.300 h3" stroke="#3a2a26" stroke-width="1"/><path d="M15 22.300 h3.200" stroke="#b98b7b" stroke-width="1"/></g></svg>
<div class="t" style="left:911.80px;top:689px;font-size:19.5px;line-height:26px;color:#191e30;letter-spacing:-0.222px;">Alex Jo...</div>
<div class="b" style="left:1030.3px;top:685px;width:71.8px;height:32.8px;background:#c6f1ba;border-radius:9px;"></div>
<div class="b" style="left:1035.3px;top:690.4px;width:8.5px;height:22px;background:#37a437;border-radius:4.2px;"></div>
<div class="t" style="left:1050.90px;top:689px;font-size:19.5px;line-height:26px;color:#191e30;">New</div>
<div class="t" style="left:1171.50px;top:689px;font-size:19.5px;line-height:26px;color:#191e30;letter-spacing:0.867px;">13/03/2024</div>
<div class="t" style="left:1318.40px;top:689px;font-size:19.5px;line-height:26px;color:#b8454c;letter-spacing:0.789px;">22/03/2024</div>
<div class="b" style="left:1462.400px;top:685px;width:96px;height:32.800px;overflow:hidden;-webkit-mask-image:linear-gradient(90deg,#000 92px,transparent 96px);mask-image:linear-gradient(90deg,#000 92px,transparent 96px)">
<div class="b" style="left:0px;top:0px;width:120px;height:32.8px;background:#f0f3fb;border-radius:9px;"></div>
<svg class="b" style="left:11.500px;top:6.900px" width="19" height="19" viewBox="0 0 19 19"><circle cx="9.500" cy="9.500" r="8.300" fill="#fff" stroke="#141a2c" stroke-width="1.900"/><path d="M1.200 9.500 a8.300 8.300 0 0 0 16.600 0 Z" fill="#141a2c"/></svg>
<div class="t" style="left:38.70px;top:4px;font-size:19.5px;line-height:26px;color:#191e30;letter-spacing:-0.060px;">Active</div>
</div>
<div class="b" style="left:1577.2px;top:685px;width:124.8px;height:32.8px;background:#f0f3fb;border-radius:9px;"></div>
<div class="t" style="left:1586.90px;top:689px;font-size:19.5px;line-height:26px;color:#191e30;letter-spacing:0.009px;">New Blog ...</div>
<div class="b" style="left:348px;top:729px;width:1452px;height:1px;background:#e1e4ef;border-radius:0px;"></div>
<div class="b" style="left:348px;top:730px;width:1452px;height:1px;background:#f4f5fa;border-radius:0px;"></div>
<div class="t" style="left:387.20px;top:745px;font-size:17.5px;line-height:24px;color:#6a7896;letter-spacing:1.500px;">10</div>
<div class="t" style="left:569.60px;top:744px;font-size:19.5px;line-height:26px;color:#191e30;letter-spacing:0.020px;">2. Schedule Blog Post</div>
<svg class="b" style="left:867.7px;top:741.1499999999999px;border-radius:7.500px;overflow:hidden" width="32" height="32" viewBox="0 0 32 32"><g filter="url(#bl)"><rect x="-4" y="-4" width="40" height="40" fill="#dfe2ec"/>
<rect x="27.500" y="-4" width="9" height="40" fill="#e9ebf0"/>
<rect x="22.500" y="-2" width="5" height="36" fill="#a7aab3"/><rect x="23.500" y="0" width="2" height="8" fill="#3a3c48"/><rect x="27" y="14.500" width="6" height="2" fill="#b4b6bd"/>
<path d="M17 0 L27 0 L27 17 L22 17 Q22 9 17 6 Z" fill="#9ea2ae"/>
<path d="M22.500 22 l3 -1 l4 1.500 l1.500 3 l-3 4.500 l-5 .5 Z" fill="#9fa4a8"/><path d="M27.500 22.500 l3 .5 l.5 3 l-3 .5 Z M22.500 24.500 l2 0 l0 4.500 l-2 0 Z M26 30 l3 -1 l.5 1.500 l-3 1 Z" fill="#4fb75a"/>
<path d="M-2 23 Q4 19 9 20 L16 34 L-2 34 Z" fill="#a3abba"/><path d="M14 26 L22 22 L24 34 L12 34 Z" fill="#dde2ee"/><path d="M10 27 L14 32 L12 34 L8 34 Z" fill="#3f4f6c"/>
<ellipse cx="16" cy="16.500" rx="7.300" ry="9.800" fill="#cba090" transform="rotate(-14 16 16.500)"/>
<path d="M4.500 17.500 Q3.500 9 9 5 Q12 1 15 2.500 Q19 3 21.500 7 Q23.500 9 23.500 14.500 L22 15.500 Q21.500 10 18 8.500 Q14 7 11 8.500 Q9 11 8.500 15 Q8 18 8.500 20 L6.500 19.500 Q4.500 19 4.500 17.500 Z" fill="#2a1e1f"/>
<path d="M8 18 Q8.500 25.500 13.500 27.500 Q18 27 20.500 22 Q21.500 19.500 21.500 18.500 Q19 21 15.500 20 Q11.500 18.500 9.500 18.500 Z" fill="#4a2f28"/>
<ellipse cx="14.500" cy="22.300" rx="2.800" ry="1.500" fill="#c08d7e"/>
<path d="M10 13.800 l3.500 .8 M16.500 15.200 l3.500 .3" stroke="#4a342c" stroke-width="1.300"/></g></svg>
<div class="t" style="left:910.20px;top:744px;font-size:19.5px;line-height:26px;color:#191e30;letter-spacing:-0.113px;">David ...</div>
<div class="b" style="left:1030.300px;top:741px;width:126px;height:32.800px;overflow:hidden;-webkit-mask-image:linear-gradient(90deg,#000 122px,transparent 126px);mask-image:linear-gradient(90deg,#000 122px,transparent 126px)">
<div class="b" style="left:0px;top:0px;width:140px;height:32.8px;background:#feeaa9;border-radius:9px;"></div>
<div class="b" style="left:5px;top:5.4px;width:8.5px;height:22px;background:#e5a90c;border-radius:4.2px;"></div>
<div class="t" style="left:20.40px;top:3px;font-size:19.5px;line-height:26px;color:#191e30;letter-spacing:-0.030px;">In Progress</div>
</div>
<div class="t" style="left:1171.50px;top:744px;font-size:19.5px;line-height:26px;color:#191e30;letter-spacing:0.867px;">12/02/2024</div>
<div class="t" style="left:1317.90px;top:744px;font-size:19.5px;line-height:26px;color:#b8454c;letter-spacing:0.844px;">12/02/2024</div>
<div class="b" style="left:1462.400px;top:741px;width:96px;height:32.800px;overflow:hidden;-webkit-mask-image:linear-gradient(90deg,#000 92px,transparent 96px);mask-image:linear-gradient(90deg,#000 92px,transparent 96px)">
<div class="b" style="left:0px;top:0px;width:120px;height:32.8px;background:#f0f3fb;border-radius:9px;"></div>
<svg class="b" style="left:11.500px;top:6.900px" width="19" height="19" viewBox="0 0 19 19"><circle cx="9.500" cy="9.500" r="8.300" fill="#fff" stroke="#141a2c" stroke-width="1.900"/><path d="M1.200 9.500 a8.300 8.300 0 0 0 16.600 0 Z" fill="#141a2c"/></svg>
<div class="t" style="left:38.70px;top:3px;font-size:19.5px;line-height:26px;color:#191e30;letter-spacing:-0.060px;">Active</div>
</div>
<div class="b" style="left:1577.2px;top:741px;width:124.8px;height:32.8px;background:#f0f3fb;border-radius:9px;"></div>
<div class="t" style="left:1586.90px;top:744px;font-size:19.5px;line-height:26px;color:#191e30;letter-spacing:0.009px;">New Blog ...</div>
<div class="b" style="left:348px;top:785px;width:1452px;height:1px;background:#e1e4ef;border-radius:0px;"></div>
<div class="b" style="left:348px;top:786px;width:1452px;height:1px;background:#f4f5fa;border-radius:0px;"></div>
<div class="t" style="left:387.20px;top:801px;font-size:17.5px;line-height:24px;color:#6a7896;letter-spacing:3.000px;">11</div>
<div class="t" style="left:570.10px;top:800px;font-size:19.5px;line-height:26px;color:#191e30;letter-spacing:-0.017px;">4. Request Graphics</div>
<svg class="b" style="left:867.7px;top:796.6999999999999px;border-radius:7.500px;overflow:hidden" width="32" height="32" viewBox="0 0 32 32"><g filter="url(#bl)"><rect x="-4" y="-4" width="40" height="40" fill="#dfe2ec"/>
<rect x="27.500" y="-4" width="9" height="40" fill="#e9ebf0"/>
<rect x="22.500" y="-2" width="5" height="36" fill="#a7aab3"/><rect x="23.500" y="0" width="2" height="8" fill="#3a3c48"/><rect x="27" y="14.500" width="6" height="2" fill="#b4b6bd"/>
<path d="M17 0 L27 0 L27 17 L22 17 Q22 9 17 6 Z" fill="#9ea2ae"/>
<path d="M22.500 22 l3 -1 l4 1.500 l1.500 3 l-3 4.500 l-5 .5 Z" fill="#9fa4a8"/><path d="M27.500 22.500 l3 .5 l.5 3 l-3 .5 Z M22.500 24.500 l2 0 l0 4.500 l-2 0 Z M26 30 l3 -1 l.5 1.500 l-3 1 Z" fill="#4fb75a"/>
<path d="M-2 23 Q4 19 9 20 L16 34 L-2 34 Z" fill="#a3abba"/><path d="M14 26 L22 22 L24 34 L12 34 Z" fill="#dde2ee"/><path d="M10 27 L14 32 L12 34 L8 34 Z" fill="#3f4f6c"/>
<ellipse cx="16" cy="16.500" rx="7.300" ry="9.800" fill="#cba090" transform="rotate(-14 16 16.500)"/>
<path d="M4.500 17.500 Q3.500 9 9 5 Q12 1 15 2.500 Q19 3 21.500 7 Q23.500 9 23.500 14.500 L22 15.500 Q21.500 10 18 8.500 Q14 7 11 8.500 Q9 11 8.500 15 Q8 18 8.500 20 L6.500 19.500 Q4.500 19 4.500 17.500 Z" fill="#2a1e1f"/>
<path d="M8 18 Q8.500 25.500 13.500 27.500 Q18 27 20.500 22 Q21.500 19.500 21.500 18.500 Q19 21 15.500 20 Q11.500 18.500 9.500 18.500 Z" fill="#4a2f28"/>
<ellipse cx="14.500" cy="22.300" rx="2.800" ry="1.500" fill="#c08d7e"/>
<path d="M10 13.800 l3.500 .8 M16.500 15.200 l3.500 .3" stroke="#4a342c" stroke-width="1.300"/></g></svg>
<div class="t" style="left:910.20px;top:800px;font-size:19.5px;line-height:26px;color:#191e30;letter-spacing:-0.113px;">David ...</div>
<div class="b" style="left:1030.300px;top:796px;width:126px;height:32.800px;overflow:hidden;-webkit-mask-image:linear-gradient(90deg,#000 122px,transparent 126px);mask-image:linear-gradient(90deg,#000 122px,transparent 126px)">
<div class="b" style="left:0px;top:0px;width:140px;height:32.8px;background:#feeaa9;border-radius:9px;"></div>
<div class="b" style="left:5px;top:5.4px;width:8.5px;height:22px;background:#e5a90c;border-radius:4.2px;"></div>
<div class="t" style="left:20.40px;top:4px;font-size:19.5px;line-height:26px;color:#191e30;letter-spacing:-0.030px;">In Progress</div>
</div>
<div class="t" style="left:1172.00px;top:800px;font-size:19.5px;line-height:26px;color:#191e30;letter-spacing:0.811px;">26/02/2024</div>
<div class="t" style="left:1318.40px;top:800px;font-size:19.5px;line-height:26px;color:#b8454c;letter-spacing:0.789px;">26/02/2024</div>
<div class="b" style="left:1462.400px;top:796px;width:96px;height:32.800px;overflow:hidden;-webkit-mask-image:linear-gradient(90deg,#000 92px,transparent 96px);mask-image:linear-gradient(90deg,#000 92px,transparent 96px)">
<div class="b" style="left:0px;top:0px;width:120px;height:32.8px;background:#f0f3fb;border-radius:9px;"></div>
<svg class="b" style="left:11.500px;top:6.900px" width="19" height="19" viewBox="0 0 19 19"><circle cx="9.500" cy="9.500" r="8.300" fill="#fff" stroke="#141a2c" stroke-width="1.900"/><path d="M1.200 9.500 a8.300 8.300 0 0 0 16.600 0 Z" fill="#141a2c"/></svg>
<div class="t" style="left:38.70px;top:4px;font-size:19.5px;line-height:26px;color:#191e30;letter-spacing:-0.060px;">Active</div>
</div>
<div class="b" style="left:1577.2px;top:796px;width:124.8px;height:32.8px;background:#f0f3fb;border-radius:9px;"></div>
<div class="t" style="left:1586.90px;top:800px;font-size:19.5px;line-height:26px;color:#191e30;letter-spacing:0.009px;">New Blog ...</div>
<div class="b" style="left:348px;top:840px;width:1452px;height:1px;background:#e1e4ef;border-radius:0px;"></div>
<div class="b" style="left:348px;top:841px;width:1452px;height:1px;background:#f4f5fa;border-radius:0px;"></div>
<div class="t" style="left:387.20px;top:856px;font-size:17.5px;line-height:24px;color:#6a7896;letter-spacing:1.700px;">12</div>
<div class="t" style="left:538.10px;top:855px;font-size:19.5px;line-height:26px;color:#141a2c;font-weight:700;letter-spacing:-0.325px;">Asset Request</div>
<svg class="b" style="left:867.7px;top:852.2499999999999px;border-radius:7.500px;overflow:hidden" width="32" height="32" viewBox="0 0 32 32"><g filter="url(#bl)"><rect x="-4" y="-4" width="40" height="40" fill="#d6d7dc"/><rect x="-4" y="-4" width="40" height="7" fill="#a6a8ae"/><rect x="-4" y="3" width="40" height="3" fill="#c4c6cc"/><rect x="24" y="6" width="12" height="6" fill="#c8cad0"/>
<path d="M1 29 Q5 26 13 26 L15 34 L1 34 Z" fill="#1fa07f"/><path d="M21 26 Q28 26 31 29.500 L31 34 L19 34 Z" fill="#25a687"/><path d="M9 27 l4 -1 l1 6 l-3 1 Z" fill="#147a3d"/>
<path d="M13 26 h8 l-3 8 h-3 Z" fill="#e8c9bd"/>
<path d="M8.500 22 Q6 13 10 8 Q12 3.500 17 3.500 Q23 4 24.500 10 Q26.500 16 25 21 Q25 24.500 22.500 26.500 L11 26.500 Q8.500 25 8.500 22 Z" fill="#2a2528"/>
<ellipse cx="17.500" cy="15" rx="5" ry="7.800" fill="#d9b4a4"/><rect x="15" y="20" width="5" height="7" fill="#d5ab9b"/>
<path d="M12.500 12 Q13.500 6 18 6.500 Q22.500 7 22.500 12 Q20 8.500 17.500 8.800 Q14.500 9 12.500 12 Z" fill="#2a2528"/>
<path d="M12.800 11.800 h9.500" stroke="#5a4a44" stroke-width="1"/><rect x="13.300" y="10.800" width="3.800" height="2.600" rx="1" fill="none" stroke="#5f4c44" stroke-width=".8"/><rect x="18.300" y="10.800" width="3.800" height="2.600" rx="1" fill="none" stroke="#5f4c44" stroke-width=".8"/>
<path d="M15.800 18.300 q1.800 1.400 3.600 0" stroke="#d8636b" stroke-width="1.100" fill="none"/></g></svg>
<div class="t" style="left:910.20px;top:855px;font-size:19.5px;line-height:26px;color:#191e30;letter-spacing:-0.200px;">Lisa Si...</div>
<div class="b" style="left:1030.300px;top:852px;width:126px;height:32.800px;overflow:hidden;-webkit-mask-image:linear-gradient(90deg,#000 122px,transparent 126px);mask-image:linear-gradient(90deg,#000 122px,transparent 126px)">
<div class="b" style="left:0px;top:0px;width:140px;height:32.8px;background:#feeaa9;border-radius:9px;"></div>
<div class="b" style="left:5px;top:5.4px;width:8.5px;height:22px;background:#e5a90c;border-radius:4.2px;"></div>
<div class="t" style="left:20.40px;top:3px;font-size:19.5px;line-height:26px;color:#191e30;letter-spacing:-0.030px;">In Progress</div>
</div>
<div class="t" style="left:1171.50px;top:855px;font-size:19.5px;line-height:26px;color:#191e30;letter-spacing:0.867px;">16/01/2024</div>
<div class="t" style="left:1318.60px;top:855px;font-size:19.5px;line-height:26px;color:#b8454c;letter-spacing:0.767px;">08/02/2024</div>
<div class="b" style="left:1462.400px;top:852px;width:96px;height:32.800px;overflow:hidden;-webkit-mask-image:linear-gradient(90deg,#000 92px,transparent 96px);mask-image:linear-gradient(90deg,#000 92px,transparent 96px)">
<div class="b" style="left:0px;top:0px;width:120px;height:32.8px;background:#f0f3fb;border-radius:9px;"></div>
<svg class="b" style="left:11.500px;top:6.900px" width="19" height="19" viewBox="0 0 19 19"><circle cx="9.500" cy="9.500" r="8.300" fill="#fff" stroke="#141a2c" stroke-width="1.900"/><path d="M1.200 9.500 a8.300 8.300 0 0 0 16.600 0 Z" fill="#141a2c"/></svg>
<div class="t" style="left:38.70px;top:3px;font-size:19.5px;line-height:26px;color:#191e30;letter-spacing:-0.060px;">Active</div>
</div>
<div class="b" style="left:1577.2px;top:852px;width:124.8px;height:32.8px;background:#f0f3fb;border-radius:9px;"></div>
<div class="t" style="left:1587.10px;top:855px;font-size:19.5px;line-height:26px;color:#191e30;letter-spacing:-0.042px;">1. Creativ...</div>
<div class="b" style="left:348px;top:896px;width:1452px;height:1px;background:#e1e4ef;border-radius:0px;"></div>
<div class="b" style="left:348px;top:897px;width:1452px;height:1px;background:#f4f5fa;border-radius:0px;"></div>
<div class="t" style="left:387.70px;top:912px;font-size:17.5px;line-height:24px;color:#6a7896;letter-spacing:1.200px;">21</div>
<div class="t" style="left:537.20px;top:911px;font-size:19.5px;line-height:26px;color:#141a2c;font-weight:700;letter-spacing:-0.237px;">Multiple Round Creative Process</div>
<div class="b" style="left:867.7px;top:907.7999999999998px;width:32px;height:32px;background:#f9a825;border-radius:8px;"></div>
<div class="t" style="left:870.45px;top:913px;font-size:15px;line-height:21px;color:#fff8e6;font-weight:700;letter-spacing:1.500px;">MM</div>
<div class="t" style="left:910.20px;top:911px;font-size:19.5px;line-height:26px;color:#191e30;letter-spacing:0.088px;">Miache...</div>
<div class="b" style="left:1030.300px;top:907px;width:126px;height:32.800px;overflow:hidden;-webkit-mask-image:linear-gradient(90deg,#000 122px,transparent 126px);mask-image:linear-gradient(90deg,#000 122px,transparent 126px)">
<div class="b" style="left:0px;top:0px;width:140px;height:32.8px;background:#feeaa9;border-radius:9px;"></div>
<div class="b" style="left:5px;top:5.4px;width:8.5px;height:22px;background:#e5a90c;border-radius:4.2px;"></div>
<div class="t" style="left:20.40px;top:4px;font-size:19.5px;line-height:26px;color:#191e30;letter-spacing:-0.030px;">In Progress</div>
</div>
<div class="t" style="left:1171.50px;top:911px;font-size:19.5px;line-height:26px;color:#191e30;letter-spacing:0.867px;">16/01/2024</div>
<div class="t" style="left:1318.60px;top:911px;font-size:19.5px;line-height:26px;color:#b8454c;letter-spacing:0.767px;">09/02/2024</div>
<div class="b" style="left:1462.400px;top:907px;width:96px;height:32.800px;overflow:hidden;-webkit-mask-image:linear-gradient(90deg,#000 92px,transparent 96px);mask-image:linear-gradient(90deg,#000 92px,transparent 96px)">
<div class="b" style="left:0px;top:0px;width:120px;height:32.8px;background:#f0f3fb;border-radius:9px;"></div>
<svg class="b" style="left:11.500px;top:6.900px" width="19" height="19" viewBox="0 0 19 19"><circle cx="9.500" cy="9.500" r="8.300" fill="#fff" stroke="#141a2c" stroke-width="1.900"/><path d="M1.200 9.500 a8.300 8.300 0 0 0 16.600 0 Z" fill="#141a2c"/></svg>
<div class="t" style="left:38.70px;top:4px;font-size:19.5px;line-height:26px;color:#191e30;letter-spacing:-0.060px;">Active</div>
</div>
<div class="b" style="left:1577.2px;top:907px;width:124.8px;height:32.8px;background:#f0f3fb;border-radius:9px;"></div>
<div class="t" style="left:1587.10px;top:911px;font-size:19.5px;line-height:26px;color:#191e30;letter-spacing:-0.042px;">1. Creativ...</div>
<div class="b" style="left:348px;top:951px;width:1452px;height:1px;background:#e1e4ef;border-radius:0px;"></div>
<div class="b" style="left:348px;top:952px;width:1452px;height:1px;background:#f4f5fa;border-radius:0px;"></div>
<div class="t" style="left:387.90px;top:968px;font-size:17.5px;line-height:24px;color:#6a7896;letter-spacing:0.900px;">35</div>
<div class="t" style="left:538.00px;top:967px;font-size:19.5px;line-height:26px;color:#141a2c;font-weight:700;letter-spacing:-0.133px;">Step 1: Quick Start Guide</div>
<div class="b" style="left:1577.2px;top:963px;width:86.6px;height:32.8px;background:#f0f3fb;border-radius:9px;"></div>
<div class="t" style="left:1587.10px;top:967px;font-size:19.5px;line-height:26px;color:#191e30;letter-spacing:-0.375px;">1. Cre...</div>
<div class="b" style="left:1670.2px;top:963px;width:31.8px;height:32.8px;background:#f0f3fb;border-radius:9px;"></div>
<div class="t" style="left:1677.20px;top:969px;font-size:16.5px;line-height:22px;color:#191e30;letter-spacing:-1.200px;">+1</div>
<div class="b" style="left:348px;top:1007px;width:1452px;height:1px;background:#e1e4ef;border-radius:0px;"></div>
<div class="b" style="left:348px;top:1008px;width:1452px;height:1px;background:#f4f5fa;border-radius:0px;"></div>
<div class="b" style="left:348px;top:1008px;width:1452px;height:18px;background:none;border-radius:0px;background:linear-gradient(rgba(250,250,254,.2),rgba(242,243,250,.95));"></div>
<svg class="b" style="left:867.7px;top:1020.0999999999999px;border-radius:7.500px;overflow:hidden" width="32" height="32" viewBox="0 0 32 32"><g filter="url(#bl)"><rect x="-4" y="-4" width="40" height="40" fill="#050506"/>
<rect x="-4" y="8.500" width="9" height="16.500" fill="#8b91a2"/><rect x="-4" y="13.500" width="9" height="7" fill="#f2f3f7"/>
<path d="M23.500 12.500 L36 9 L36 13 L23.500 17 Z" fill="#8f8f9c"/><rect x="17" y="-4" width="3" height="5.500" fill="#dfe2ea"/>
<path d="M-1 26 Q2 24 5 25 L5 34 L-1 34 Z" fill="#c49582"/><path d="M25.500 24.500 Q30 23.500 34 25 L34 34 L25.500 34 Z" fill="#c79784"/>
<path d="M4.500 34 Q4 10 10 5 Q14 2 18 4 Q24 8 24.500 22 L25.500 34 Z" fill="#050506"/>
<ellipse cx="14" cy="14.800" rx="6.300" ry="8.600" fill="#d9ad9d"/>
<path d="M10.500 21 h7 v6.500 q-3.500 2 -7 0 Z" fill="#b88977"/>
<path d="M7.500 12 Q8 4.500 14 4.500 Q20.500 4.500 20.800 13 Q19 8 14.500 7.800 Q10 8 7.500 12 Z" fill="#050506"/>
<path d="M9.500 11.800 h3.200 M15.500 11.800 h3.200" stroke="#5a3f38" stroke-width="1.200"/>
<path d="M11.500 18.300 q2.800 1.800 5.600 0" stroke="#f4dcd8" stroke-width="1.100" fill="none"/></g></svg>
<div class="b" style="left:1030.3px;top:1018.4999999999999px;width:124px;height:33px;background:#fbdcb0;border-radius:9px;"></div>
<div class="b" style="left:1035.3px;top:1024.1px;width:8.5px;height:22px;background:#ee9a3a;border-radius:4px;"></div>
<div class="b" style="left:1462.4px;top:1018.4999999999999px;width:96px;height:33px;background:#e9ecf6;border-radius:9px;"></div>
<div class="b" style="left:1577.2px;top:1018.4999999999999px;width:124.8px;height:33px;background:#e9ecf6;border-radius:9px;"></div>
<div class="b" style="left:348px;top:1025.7px;width:1452px;height:60px;background:#ffffff;border-radius:0px;background:linear-gradient(#fff 50%,#f2f2f4 100%);"></div>
<div class="b" style="left:348px;top:1025px;width:1452px;height:1px;background:#e2e4ee;border-radius:0px;"></div>
<div class="t" style="left:470.20px;top:1041px;font-size:19.5px;line-height:26px;color:#191e30;letter-spacing:0.700px;">Item</div>
<div class="t" style="left:560.50px;top:1042px;font-size:18.5px;line-height:25px;color:#66759a;">N</div>
<svg class="b" style="left:0;top:0" width="1800" height="1085" viewBox="0 0 1800 1085" fill="none" stroke-linecap="round" stroke-linejoin="round">
<polygon points="23,32.700 34.700,32.700 46,43.500 39.700,50" fill="#08e04a"/><polygon points="53.300,23 66.200,23 49.300,40 43,33.700" fill="#08e04a"/>
<path d="M324.50 29.00 L314.50 38.00 L324.50 47.00" stroke="#d3d7df" stroke-width="1.6" fill="none" />
<circle cx="31.500" cy="96.600" r="6.600" stroke="#d3d7df" stroke-width="1.500"/>
<path d="M36.300 101.400 L41.200 106.400" stroke="#d3d7df" stroke-width="1.5" fill="none" />
<path d="M301.70 92.90 A2.3 2.3 0 1 0 299.40 95.20 H308.60 A2.3 2.3 0 1 0 306.30 92.90 V102.10 A2.3 2.3 0 1 0 308.60 99.80 H299.40 A2.3 2.3 0 1 0 301.70 102.10 Z" stroke="#c9ced8" stroke-width="1.4" fill="none" />
<path d="M26 146.500 c2.200 -1.800 2.500 -4 2.500 -7.500 a5.300 5.300 0 0 1 10.600 0 c0 3.500 .3 5.700 2.500 7.500 Z M33.800 133.600 v-2 M30.800 148.300 a3 2.600 0 0 0 6 0" stroke="#d3d7df" stroke-width="1.5" fill="none" />
<circle cx="36.600" cy="180.600" r="3.700" stroke="#d3d7df" stroke-width="1.500"/>
<path d="M28.800 191.800 c0 -3.300 3.500 -5 7.800 -5 s7.800 1.700 7.800 5 Z M24.300 178 h4.700 M24.300 181.500 h3.700 M24.300 185 h2.200" stroke="#d3d7df" stroke-width="1.5" fill="none" />
<circle cx="31.500" cy="223.700" r="3.600" stroke="#d3d7df" stroke-width="1.500"/>
<path d="M23.700 235.500 c0 -3.600 3.300 -5.500 7.800 -5.500 c1.500 0 2.800 .3 4 .7 M23.700 235.500 h15.500 M35.800 228.700 h8 M41 225.700 l3 3 l-3 3" stroke="#d3d7df" stroke-width="1.5" fill="none" />
<rect x="24.95" y="263.35" width="16.3" height="16.3" rx="1.6" stroke="#d3d7df" stroke-width="1.5"/>
<path d="M33.10 263.35 V279.65 M24.95 271.50 H33.10" stroke="#d3d7df" stroke-width="1.5" fill="none" />
<rect x="25.700" y="306.300" width="15.600" height="15.400" rx="1.600" stroke="#d3d7df" stroke-width="1.500"/>
<path d="M25.700 310.800 h15.600 M29.700 304.500 v3.200 M37.300 304.500 v3.200" stroke="#d3d7df" stroke-width="1.5" fill="none" />
<polygon points="33.60,349.00 36.01,354.98 42.44,355.43 37.50,359.57 39.07,365.82 33.60,362.40 28.13,365.82 29.70,359.57 24.76,355.43 31.19,354.98" stroke="#d3d7df" stroke-width="1.500"/>
<circle cx="25.6" cy="400.3" r="1.7" fill="#d3d7df"/>
<circle cx="33" cy="400.3" r="1.7" fill="#d3d7df"/>
<circle cx="40.4" cy="400.3" r="1.7" fill="#d3d7df"/>
<path d="M28.40 486.50 L33.90 492.10 L39.40 486.50" stroke="#d3d7df" stroke-width="1.5" fill="none" />
<rect x="57.60" y="524.65" width="16.3" height="16.3" rx="1.6" stroke="#d3d7df" stroke-width="1.5"/>
<path d="M65.75 524.65 V540.95 M57.60 532.80 H65.75" stroke="#d3d7df" stroke-width="1.5" fill="none" />
<path d="M59.05 568.25 H64.55 L66.55 570.85 H73.65 a1.5 1.5 0 0 1 1.5 1.5 V580.25 a1.5 1.5 0 0 1 -1.5 1.5 H59.05 a1.5 1.5 0 0 1 -1.5 -1.5 V569.75 a1.5 1.5 0 0 1 1.5 -1.5 Z" stroke="#d3d7df" stroke-width="1.5" fill="none" />
<path d="M57.55 573.65 H64.05 L66.55 570.85" stroke="#d3d7df" stroke-width="1.5" fill="none" />
<rect x="57.60" y="611.75" width="16.3" height="16.3" rx="1.6" stroke="#d3d7df" stroke-width="1.5"/>
<path d="M65.75 611.75 V628.05 M57.60 619.90 H65.75" stroke="#d3d7df" stroke-width="1.5" fill="none" />
<rect x="57.60" y="654.95" width="16.3" height="16.3" rx="1.6" stroke="#d3d7df" stroke-width="1.5"/>
<path d="M65.75 654.95 V671.25 M57.60 663.10 H65.75" stroke="#d3d7df" stroke-width="1.5" fill="none" />
<circle cx="303.2" cy="749.5" r="1.8" fill="#d3d7df"/>
<circle cx="310.7" cy="749.5" r="1.8" fill="#d3d7df"/>
<circle cx="318.2" cy="749.5" r="1.8" fill="#d3d7df"/>
<path d="M307.40 790.10 L312.90 795.70 L318.40 790.10" stroke="#d3d7df" stroke-width="1.5" fill="none" />
<path d="M23.500 845.500 h11 M31 841.500 l4 4 l-4 4 M29.800 840.300 l3.900 -3.700 l9.600 8.900 l-9.600 8.900 l-3.900 -3.700" stroke="#d3d7df" stroke-width="1.5" fill="none" />
<polygon points="309.22,836.73 313.68,836.73 314.02,839.37 315.43,840.18 317.89,839.16 320.12,843.02 318.00,844.64 318.00,846.26 320.12,847.88 317.89,851.74 315.43,850.72 314.02,851.53 313.68,854.17 309.22,854.17 308.88,851.53 307.47,850.72 305.01,851.74 302.78,847.88 304.90,846.26 304.90,844.64 302.78,843.02 305.01,839.16 307.47,840.18 308.88,839.37" stroke="#d3d7df" stroke-width="1.500"/><circle cx="311.450" cy="845.450" r="3" stroke="#d3d7df" stroke-width="1.500"/>
<path d="M31.80 893.90 L37.80 899.60 L31.80 905.30" stroke="#d3d7df" stroke-width="1.5" fill="none" />
<path d="M303.35 898.80 H318.15 M310.75 891.40 V906.20" stroke="#d3d7df" stroke-width="1.5" fill="none" />
<path d="M28.40 951.20 L33.90 956.80 L39.40 951.20" stroke="#d3d7df" stroke-width="1.5" fill="none" />
<path d="M303.35 952.80 H318.15 M310.75 945.40 V960.20" stroke="#d3d7df" stroke-width="1.5" fill="none" />
<path d="M31.80 991.30 L37.80 997.00 L31.80 1002.70" stroke="#9aa2b1" stroke-width="1.5" fill="none" />
<g transform="translate(65.60 996.10) scale(1.0)" stroke="#a9afbb" stroke-width="1.50"><rect x="-6.6" y="-6.9" width="13.2" height="15.3" rx="2.2"/><rect x="-3.7" y="-8.5" width="7.4" height="3.2" rx="1.1" fill="#152034"/><path d="M-3.8 -1.4 H4 M-3.8 2.3 H4"/></g>
<circle cx="151.800" cy="1052.300" r="3.100" stroke="#c5cbd8" stroke-width="1.400"/>
<path d="M145.300 1062 c0 -3 2.800 -4.600 6.500 -4.600 s6.500 1.600 6.500 4.600 Z M140.300 1052.300 h5 M142.800 1049.800 v5" stroke="#c5cbd8" stroke-width="1.4" fill="none" />
<path d="M570.50 33.80 L575.50 38.30 L570.50 42.80" stroke="#657694" stroke-width="1.6" fill="none" />
<path d="M1286.200 27.800 L1277.500 39 H1283.600 L1282 46.800 L1290.500 35.300 H1284.600 Z" stroke="#191e30" stroke-width="1.6" fill="none" />
<path d="M1410.25 35.20 L1415.50 41.00 L1420.75 35.20" stroke="#191e30" stroke-width="1.6" fill="none" />
<circle cx="1462.800" cy="34" r="3.700" stroke="#191e30" stroke-width="1.600"/>
<path d="M1455.600 45.200 c0 -3.200 3 -5.200 7.200 -5.200 s7.200 2 7.200 5.200 Z M1467.500 30.400 a3.700 3.700 0 0 1 0 7.200 M1470.300 40.600 c2.600 .7 4.200 2.200 4.200 4.600 h-1.300" stroke="#191e30" stroke-width="1.6" fill="none" />
<path d="M1559.700 32 V44 L1567.500 38 Z" stroke="#191e30" stroke-width="1.7" fill="none" />
<path d="M1649.75 35.30 L1655.00 41.10 L1660.25 35.30" stroke="#191e30" stroke-width="1.6" fill="none" />
<circle cx="1709" cy="38" r="9.800" stroke="#191e30" stroke-width="1.700"/>
<path d="M1744.300 37.800 H1760.800 M1752.500 29.600 V46" stroke="#ffffff" stroke-width="3" fill="none" stroke-linecap="butt"/>
<g transform="translate(390.70 81.30) scale(1.03)" stroke="#191e30" stroke-width="1.65"><rect x="-6.6" y="-6.9" width="13.2" height="15.3" rx="2.2"/><rect x="-3.7" y="-8.5" width="7.4" height="3.2" rx="1.1" fill="#fff"/><path d="M-3.8 -1.4 H4 M-3.8 2.3 H4"/></g>
<circle cx="884.400" cy="81.100" r="9.600" stroke="#191e30" stroke-width="1.600"/>
<path d="M882.500 79.800 h2 v5.700 M881.600 85.700 h5.600" stroke="#191e30" stroke-width="1.5" fill="none" />
<circle cx="884.3" cy="76.4" r="1.1" fill="#191e30"/>
<path d="M969.600 72.700 L975.700 79.400 L972.800 80.900 L971 86.500 L967.600 87.400 L960.800 80.700 L961.800 77.700 L967.800 76.300 Z M964.700 84 L959.400 89.200" stroke="#191e30" stroke-width="1.6" fill="none" />
<path d="M1013.300 73.800 c.8 4.800 2.500 6.500 7.300 7.700 c-4.800 1.200 -6.500 2.900 -7.300 7.700 c-.8 -4.800 -2.500 -6.500 -7.300 -7.700 c4.800 -1.200 6.500 -2.900 7.300 -7.700 Z M1022 71.700 v5.800 M1019.100 74.600 h5.800 M1022 84.200 v5.800 M1019.100 87.100 h5.800" stroke="#191e30" stroke-width="1.5" fill="none" />
<g transform="translate(1063.500 92.500) rotate(-8 11 12)"><path d="M6.500 13.500 V3.300 a1.900 1.900 0 0 1 3.800 0 V9.500 l.6 -.4 a1.700 1.700 0 0 1 2.800 .8 a1.700 1.700 0 0 1 2.800 .8 a1.700 1.700 0 0 1 2.900 1.200 V17 c0 2.500 -.8 3.800 -1.600 5.500 H9.500 c-2 -2 -4.500 -5.300 -5.800 -7.600 c-.8 -1.600 1.300 -2.900 2.800 -1.400 Z" fill="#fff" stroke="#111" stroke-width="1.400"/><path d="M11 15.200 v4.600 M13.500 15.200 v4.600 M16 15.200 v4.600" stroke="#111" stroke-width="1.100"/></g>
<rect x="407" y="135" width="17.300" height="12" rx="1.500" stroke="#141a2c" stroke-width="1.700"/>
<path d="M407 139 h17.300 M407 143 h17.300 M412.200 135 v12" stroke="#141a2c" stroke-width="1.5" fill="none" />
<path d="M525.800 133.300 h6.200 M535.600 133.300 h6.200" stroke="#73809d" stroke-width="1.5" fill="none" />
<rect x="525.800" y="137.500" width="6.200" height="10.700" rx="1" stroke="#73809d" stroke-width="1.500"/><rect x="535.600" y="137.500" width="6.200" height="5.700" rx="1" stroke="#73809d" stroke-width="1.500"/>
<rect x="648.300" y="133.800" width="8.800" height="4.600" rx="1" stroke="#73809d" stroke-width="1.500"/><rect x="654" y="140.200" width="8.800" height="4.600" rx="1" stroke="#73809d" stroke-width="1.500"/>
<path d="M648 148.400 h15" stroke="#73809d" stroke-width="1.5" fill="none" />
<path d="M826 134.700 a7.600 7.600 0 1 0 7.600 7.600 h-7.600 Z M829.500 132 a6.800 6.800 0 0 1 6.800 6.800 h-6.800 Z" stroke="#73809d" stroke-width="1.5" fill="none" />
<path transform="translate(946.65 139.90) scale(0.96)" d="M-4.9 -4.7 V3.8 a4.9 4.9 0 0 0 9.8 0 V-5.3 a3.45 3.45 0 0 0 -6.9 0 V2.4 a2 2 0 0 0 4 0 V-4.7" stroke="#73809d" stroke-width="1.56" fill="none"/>
<path d="M1080.50 138.10 L1085.00 143.30 L1089.50 138.10" stroke="#141a2c" stroke-width="2.1" fill="none" />
<path d="M1156.400 134 h12.800 l-4.800 6.800 v6.200 l-3.200 2 v-8.200 Z" stroke="#191e30" stroke-width="1.6" fill="none" />
<path d="M1250.800 149.600 V132.300 M1246.800 136.300 l4 -4 l4 4 M1260.800 132.300 V149.600 M1256.800 145.600 l4 4 l4 -4" stroke="#191e30" stroke-width="1.6" fill="none" />
<rect x="1352.400" y="133.900" width="14.700" height="5" rx="1.300" stroke="#191e30" stroke-width="1.600"/><rect x="1352.400" y="143.300" width="14.700" height="5" rx="1.300" stroke="#191e30" stroke-width="1.600"/>
<path d="M1457.300 136.200 h-3.200 v9.600 h3.200 M1464.500 136.200 h7.100 v9.600 h-7.100 M1460.800 132.200 v17.200 M1457.800 132.200 h6 M1457.800 149.400 h6" stroke="#191e30" stroke-width="1.6" fill="none" />
<path d="M1554.600 133.500 v12.200 h4.600 M1554.600 137 h4.600" stroke="#191e30" stroke-width="1.6" fill="none" />
<rect x="1559.300" y="134" width="12.400" height="5.400" rx="1.200" stroke="#191e30" stroke-width="1.600"/><rect x="1559.300" y="143" width="12.400" height="5.400" rx="1.200" stroke="#191e30" stroke-width="1.600"/>
<circle cx="1606.400" cy="140.700" r="8.600" stroke="#191e30" stroke-width="1.600"/><ellipse cx="1606.400" cy="140.700" rx="3.900" ry="8.600" stroke="#191e30" stroke-width="1.400"/>
<path d="M1597.800 140.700 h17.200 M1599 136.300 h14.800 M1599 145.100 h14.800 M1606.400 132.100 v17.200" stroke="#191e30" stroke-width="1.3" fill="none" />
<path d="M1647 133.800 l-5.200 5.200 l5.200 5.200 M1642 139 h11.500 a4 4 0 0 1 0 8 h-3.500" stroke="#191e30" stroke-width="1.6" fill="none" />
<path d="M1695.600 133.800 l5.200 5.200 l-5.200 5.200 M1700.600 139 h-11.500 a4 4 0 0 0 0 8 h3.500" stroke="#aab5cd" stroke-width="1.6" fill="none" />
<circle cx="1728.9" cy="140.2" r="2" fill="#191e30"/>
<circle cx="1735.5" cy="140.2" r="2" fill="#191e30"/>
<circle cx="1742.2" cy="140.2" r="2" fill="#191e30"/>
<path d="M1142.700 209.500 V194 M1138.500 198.200 l4.200 -4.200 l4.200 4.200" stroke="#191e30" stroke-width="1.6" fill="none" />
<path d="M454.30 252.50 L448.50 257.50 L454.30 262.50" stroke="#191e30" stroke-width="1.5" fill="none" />
<g transform="translate(482.20 256.10) scale(1.0)" stroke="#191e30" stroke-width="1.70"><rect x="-6.6" y="-6.9" width="13.2" height="15.3" rx="2.2"/><rect x="-3.7" y="-8.5" width="7.4" height="3.2" rx="1.1" fill="#fff"/><path d="M-3.8 -1.4 H4 M-3.8 2.3 H4"/></g>
<path d="M478.80 310.55 L483.70 315.95 L488.60 310.55" stroke="#191e30" stroke-width="1.5" fill="none" />
<g transform="translate(514.60 311.65) scale(1.0)" stroke="#191e30" stroke-width="1.70"><rect x="-6.6" y="-6.9" width="13.2" height="15.3" rx="2.2"/><rect x="-3.7" y="-8.5" width="7.4" height="3.2" rx="1.1" fill="#fff"/><path d="M-3.8 -1.4 H4 M-3.8 2.3 H4"/></g>
<path d="M542.70 361.60 H553.10 a2 2 0 0 1 2 2 V371.40 L550.50 376.00 H542.70 a2 2 0 0 1 -2 -2 V363.60 a2 2 0 0 1 2 -2 Z" stroke="#191e30" stroke-width="1.8" fill="none" />
<path d="M555.10 371.40 H551.70 a1.2 1.2 0 0 0 -1.2 1.2 V376.00" stroke="#191e30" stroke-width="1.62" fill="none" />
<path d="M542.70 417.15 H553.10 a2 2 0 0 1 2 2 V426.95 L550.50 431.55 H542.70 a2 2 0 0 1 -2 -2 V419.15 a2 2 0 0 1 2 -2 Z" stroke="#191e30" stroke-width="1.8" fill="none" />
<path d="M555.10 426.95 H551.70 a1.2 1.2 0 0 0 -1.2 1.2 V431.55" stroke="#191e30" stroke-width="1.62" fill="none" />
<path d="M542.70 472.70 H553.10 a2 2 0 0 1 2 2 V482.50 L550.50 487.10 H542.70 a2 2 0 0 1 -2 -2 V474.70 a2 2 0 0 1 2 -2 Z" stroke="#191e30" stroke-width="1.8" fill="none" />
<path d="M555.10 482.50 H551.70 a1.2 1.2 0 0 0 -1.2 1.2 V487.10" stroke="#191e30" stroke-width="1.62" fill="none" />
<path transform="translate(836.40 479.10) scale(1.0)" d="M-4.9 -4.7 V3.8 a4.9 4.9 0 0 0 9.8 0 V-5.3 a3.45 3.45 0 0 0 -6.9 0 V2.4 a2 2 0 0 0 4 0 V-4.7" stroke="#626e89" stroke-width="1.50" fill="none"/>
<path d="M542.70 528.25 H553.10 a2 2 0 0 1 2 2 V538.05 L550.50 542.65 H542.70 a2 2 0 0 1 -2 -2 V530.25 a2 2 0 0 1 2 -2 Z" stroke="#191e30" stroke-width="1.8" fill="none" />
<path d="M555.10 538.05 H551.70 a1.2 1.2 0 0 0 -1.2 1.2 V542.65" stroke="#191e30" stroke-width="1.62" fill="none" />
<path d="M542.70 583.80 H553.10 a2 2 0 0 1 2 2 V593.60 L550.50 598.20 H542.70 a2 2 0 0 1 -2 -2 V585.80 a2 2 0 0 1 2 -2 Z" stroke="#191e30" stroke-width="1.8" fill="none" />
<path d="M555.10 593.60 H551.70 a1.2 1.2 0 0 0 -1.2 1.2 V598.20" stroke="#191e30" stroke-width="1.62" fill="none" />
<path transform="translate(836.40 590.20) scale(1.0)" d="M-4.9 -4.7 V3.8 a4.9 4.9 0 0 0 9.8 0 V-5.3 a3.45 3.45 0 0 0 -6.9 0 V2.4 a2 2 0 0 0 4 0 V-4.7" stroke="#626e89" stroke-width="1.50" fill="none"/>
<path d="M542.70 639.35 H553.10 a2 2 0 0 1 2 2 V649.15 L550.50 653.75 H542.70 a2 2 0 0 1 -2 -2 V641.35 a2 2 0 0 1 2 -2 Z" stroke="#191e30" stroke-width="1.8" fill="none" />
<path d="M555.10 649.15 H551.70 a1.2 1.2 0 0 0 -1.2 1.2 V653.75" stroke="#191e30" stroke-width="1.62" fill="none" />
<path d="M542.70 694.90 H553.10 a2 2 0 0 1 2 2 V704.70 L550.50 709.30 H542.70 a2 2 0 0 1 -2 -2 V696.90 a2 2 0 0 1 2 -2 Z" stroke="#191e30" stroke-width="1.8" fill="none" />
<path d="M555.10 704.70 H551.70 a1.2 1.2 0 0 0 -1.2 1.2 V709.30" stroke="#191e30" stroke-width="1.62" fill="none" />
<path d="M542.70 750.45 H553.10 a2 2 0 0 1 2 2 V760.25 L550.50 764.85 H542.70 a2 2 0 0 1 -2 -2 V752.45 a2 2 0 0 1 2 -2 Z" stroke="#191e30" stroke-width="1.8" fill="none" />
<path d="M555.10 760.25 H551.70 a1.2 1.2 0 0 0 -1.2 1.2 V764.85" stroke="#191e30" stroke-width="1.62" fill="none" />
<path d="M542.70 806.00 H553.10 a2 2 0 0 1 2 2 V815.80 L550.50 820.40 H542.70 a2 2 0 0 1 -2 -2 V808.00 a2 2 0 0 1 2 -2 Z" stroke="#191e30" stroke-width="1.8" fill="none" />
<path d="M555.10 815.80 H551.70 a1.2 1.2 0 0 0 -1.2 1.2 V820.40" stroke="#191e30" stroke-width="1.62" fill="none" />
<path d="M481.40 863.75 L487.00 868.75 L481.40 873.75" stroke="#191e30" stroke-width="1.5" fill="none" />
<g transform="translate(514.60 867.15) scale(1.0)" stroke="#191e30" stroke-width="1.70"><rect x="-6.6" y="-6.9" width="13.2" height="15.3" rx="2.2"/><rect x="-3.7" y="-8.5" width="7.4" height="3.2" rx="1.1" fill="#fff"/><path d="M-3.8 -1.4 H4 M-3.8 2.3 H4"/></g>
<path d="M481.40 919.30 L487.00 924.30 L481.40 929.30" stroke="#191e30" stroke-width="1.5" fill="none" />
<g transform="translate(514.60 922.70) scale(1.0)" stroke="#191e30" stroke-width="1.70"><rect x="-6.6" y="-6.9" width="13.2" height="15.3" rx="2.2"/><rect x="-3.7" y="-8.5" width="7.4" height="3.2" rx="1.1" fill="#fff"/><path d="M-3.8 -1.4 H4 M-3.8 2.3 H4"/></g>
<path d="M481.40 974.85 L487.00 979.85 L481.40 984.85" stroke="#191e30" stroke-width="1.5" fill="none" />
<path d="M507.55 972.00 H513.05 L515.05 974.60 H522.05 a1.5 1.5 0 0 1 1.5 1.5 V984.00 a1.5 1.5 0 0 1 -1.5 1.5 H507.55 a1.5 1.5 0 0 1 -1.5 -1.5 V973.50 a1.5 1.5 0 0 1 1.5 -1.5 Z" stroke="#191e30" stroke-width="1.6" fill="none" />
<path d="M506.05 977.40 H512.55 L515.05 974.60" stroke="#191e30" stroke-width="1.6" fill="none" />
<path d="M442.00 1054.70 H456.60 M449.30 1047.40 V1062.00" stroke="#191e30" stroke-width="1.7" fill="none" />
<path d="M528.200 1055 L534.200 1048.400 L540.200 1055 M551.400 1048.500 L544.900 1055.400 H548.200 V1060.700 H554.600 V1055.400 H557.900 Z" stroke="#66759a" stroke-width="1.4" fill="none" />
</svg>
</div></div></body></html>
